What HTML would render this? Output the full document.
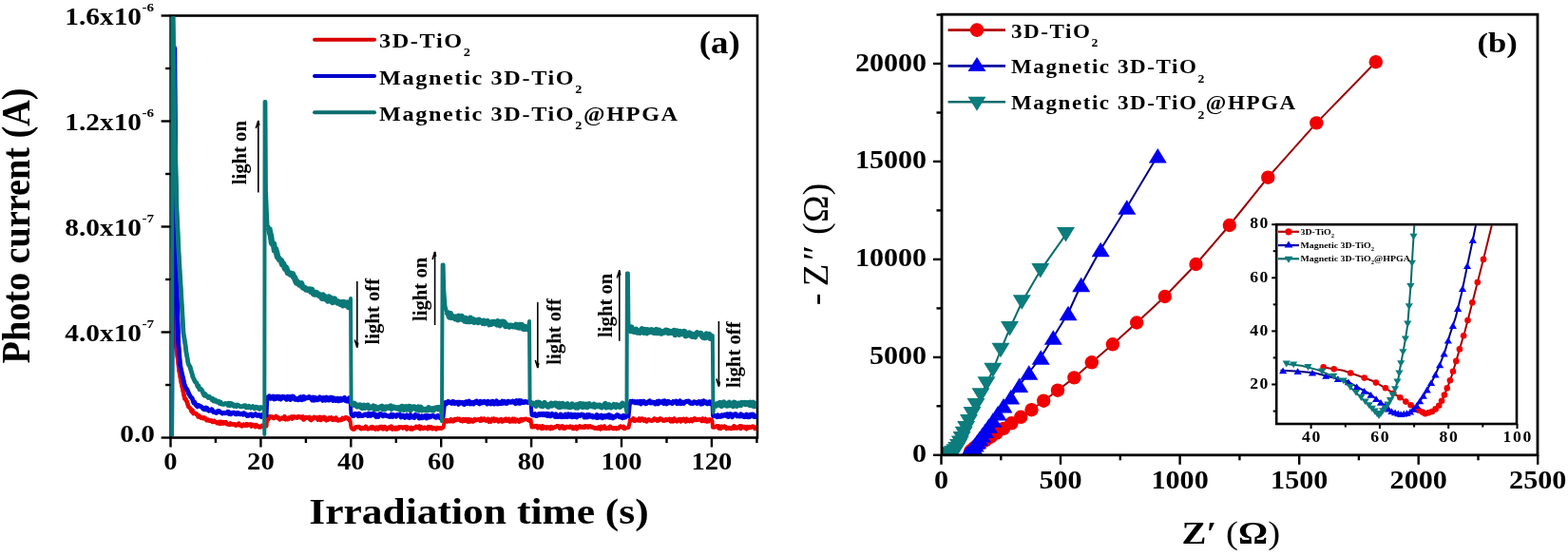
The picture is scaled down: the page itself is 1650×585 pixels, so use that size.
<!DOCTYPE html>
<html><head><meta charset="utf-8"><title>Figure</title>
<style>html,body{margin:0;padding:0;background:#fff;}svg{display:block;}</style></head>
<body><svg width="1650" height="585" viewBox="0 0 1650 585" font-family="'Liberation Serif', 'Times New Roman', serif" font-weight="bold">
<rect width="1650" height="585" fill="#fff"/>
<rect x="179.6" y="16.5" width="617.4" height="444.0" fill="none" stroke="#000" stroke-width="2.6"/>
<defs><clipPath id="ca"><rect x="178.5" y="17.5" width="617.5" height="442"/></clipPath></defs>
<g clip-path="url(#ca)">
<polyline points="180.5,458.0 181.2,263.0 181.5,262.5 182.5,309.1 183.5,330.4 184.5,347.2 185.5,365.1 186.5,373.3 187.5,380.9 188.5,390.0 189.5,395.4 190.5,401.6 191.5,405.9 192.5,410.3 193.5,415.6 194.5,419.8 195.5,420.0 196.5,422.3 197.5,425.3 198.5,428.2 199.5,428.9 200.5,429.8 201.5,432.7 202.5,431.7 203.5,435.2 204.5,434.7 205.5,434.9 206.5,435.4 207.5,436.5 208.5,438.4 209.5,437.3 210.5,438.9 211.5,439.6 212.5,439.3 213.5,440.2 214.5,439.4 215.5,439.8 216.5,440.6 217.5,442.3 218.5,441.9 219.5,441.8 220.5,442.7 221.5,442.6 222.5,442.4 223.5,443.9 224.5,443.9 225.5,442.9 226.5,444.0 227.5,444.0 228.5,445.2 229.5,445.0 230.5,444.0 231.5,445.9 232.5,443.8 233.5,444.7 234.5,445.7 235.5,444.2 236.5,445.2 237.5,444.2 238.5,445.9 239.5,446.3 240.5,445.9 241.5,446.8 242.5,445.5 243.5,446.6 244.5,446.4 245.5,446.4 246.5,446.2 247.5,447.3 248.5,447.6 249.5,446.5 250.5,447.1 251.5,445.6 252.5,447.4 253.5,447.3 254.5,448.3 255.5,447.9 256.5,446.6 257.5,447.0 258.5,447.8 259.5,446.2 260.5,447.4 261.5,446.7 262.5,446.7 263.5,446.6 264.5,448.5 265.5,446.9 266.5,447.2 267.5,447.7 268.5,449.0 269.5,447.0 270.5,448.0 271.5,448.3 272.5,449.3 273.5,449.2 274.5,449.3 275.5,447.9 276.5,448.3 277.5,448.2 280.5,448.5 281.3,439.5 281.5,440.7 282.5,441.0 283.5,438.4 284.5,438.5 285.5,438.7 286.5,438.7 287.5,439.6 288.5,439.9 289.5,438.9 290.5,438.1 291.5,439.4 292.5,439.3 293.5,439.9 294.5,441.2 295.5,440.3 296.5,439.8 297.5,440.2 298.5,440.4 299.5,438.4 300.5,441.1 301.5,440.7 302.5,441.1 303.5,440.8 304.5,439.5 305.5,439.6 306.5,438.7 307.5,440.4 308.5,438.6 309.5,438.6 310.5,439.1 311.5,438.9 312.5,439.5 313.5,438.6 314.5,438.5 315.5,439.0 316.5,438.8 317.5,439.7 318.5,438.6 319.5,441.3 320.5,440.5 321.5,439.1 322.5,439.4 323.5,439.7 324.5,439.8 325.5,439.0 326.5,441.4 327.5,441.9 328.5,440.2 329.5,440.3 330.5,439.0 331.5,439.1 332.5,439.9 333.5,439.6 334.5,441.5 335.5,439.3 336.5,438.9 337.5,441.9 338.5,440.6 339.5,439.4 340.5,440.6 341.5,439.0 342.5,440.6 343.5,442.1 344.5,441.7 345.5,441.2 346.5,439.8 347.5,440.2 348.5,439.6 349.5,441.5 350.5,440.8 351.5,441.6 352.5,440.2 353.5,439.8 354.5,441.7 355.5,442.3 356.5,441.9 357.5,441.8 358.5,441.8 359.5,441.6 360.5,440.0 361.5,440.9 362.5,440.4 363.5,439.4 364.5,439.4 365.5,440.2 366.5,440.2 367.5,441.6 368.5,442.5 369.5,450.0 370.0,449.8 371.0,451.3 372.0,451.5 373.0,451.4 374.0,449.6 375.0,449.2 376.0,449.2 377.0,449.1 378.0,449.1 379.0,450.4 380.0,451.2 381.0,451.1 382.0,450.0 383.0,450.5 384.0,450.9 385.0,448.8 386.0,450.5 387.0,451.3 388.0,450.9 389.0,450.8 390.0,450.0 391.0,449.1 392.0,450.9 393.0,449.6 394.0,451.0 395.0,451.5 396.0,449.8 397.0,449.8 398.0,451.4 399.0,450.8 400.0,449.1 401.0,449.0 402.0,449.1 403.0,451.3 404.0,451.0 405.0,449.0 406.0,451.1 407.0,451.6 408.0,450.6 409.0,449.7 410.0,450.3 411.0,449.0 412.0,448.7 413.0,451.5 414.0,450.6 415.0,450.2 416.0,451.4 417.0,449.9 418.0,451.3 419.0,451.1 420.0,449.3 421.0,449.4 422.0,449.5 423.0,449.4 424.0,450.4 425.0,449.5 426.0,449.9 427.0,449.1 428.0,451.4 429.0,449.7 430.0,450.1 431.0,450.4 432.0,451.4 433.0,450.0 434.0,451.5 435.0,450.2 436.0,450.3 437.0,450.3 438.0,448.8 439.0,450.0 440.0,449.3 441.0,448.7 442.0,451.1 443.0,449.2 444.0,450.2 445.0,450.9 446.0,450.4 447.0,449.7 448.0,450.3 449.0,450.4 450.0,451.1 451.0,449.1 452.0,450.4 453.0,449.5 454.0,449.6 455.0,451.1 456.0,450.3 457.0,450.5 458.0,451.1 459.0,451.5 460.0,450.1 461.0,450.6 462.0,450.3 463.0,450.3 464.0,450.9 465.0,450.2 466.5,450.0 468.0,442.0 468.5,442.1 469.5,441.9 470.5,443.3 471.5,442.6 472.5,443.1 473.5,443.3 474.5,441.3 475.5,442.2 476.5,443.3 477.5,443.0 478.5,440.9 479.5,440.9 480.5,441.9 481.5,440.7 482.5,441.3 483.5,440.8 484.5,442.5 485.5,442.9 486.5,443.2 487.5,441.0 488.5,442.7 489.5,442.5 490.5,441.0 491.5,443.2 492.5,443.5 493.5,441.2 494.5,443.4 495.5,441.8 496.5,442.0 497.5,443.5 498.5,443.1 499.5,441.1 500.5,441.9 501.5,442.1 502.5,441.6 503.5,441.2 504.5,441.5 505.5,442.7 506.5,440.6 507.5,442.2 508.5,441.9 509.5,440.6 510.5,441.6 511.5,442.5 512.5,442.1 513.5,440.8 514.5,443.6 515.5,443.0 516.5,443.5 517.5,440.9 518.5,441.4 519.5,440.7 520.5,443.0 521.5,441.4 522.5,441.0 523.5,441.9 524.5,443.4 525.5,443.1 526.5,441.4 527.5,441.1 528.5,443.4 529.5,442.3 530.5,442.7 531.5,440.9 532.5,440.8 533.5,442.7 534.5,441.9 535.5,440.9 536.5,443.5 537.5,442.6 538.5,443.1 539.5,440.9 540.5,443.2 541.5,440.9 542.5,443.3 543.5,442.0 544.5,441.7 545.5,442.3 546.5,443.5 547.5,441.5 548.5,441.1 549.5,442.3 550.5,441.4 551.5,441.0 552.5,441.2 553.5,440.8 554.5,441.3 555.5,441.6 556.5,441.6 557.5,443.0 558.5,441.6 559.5,449.5 560.0,449.5 561.0,448.5 562.0,449.1 563.0,448.1 564.0,448.8 565.0,448.1 566.0,450.2 567.0,449.7 568.0,448.6 569.0,449.5 570.0,450.9 571.0,448.4 572.0,450.5 573.0,449.4 574.0,449.6 575.0,450.6 576.0,449.3 577.0,449.6 578.0,450.2 579.0,451.0 580.0,449.1 581.0,450.6 582.0,450.2 583.0,450.0 584.0,449.3 585.0,449.2 586.0,448.3 587.0,448.5 588.0,448.4 589.0,450.4 590.0,448.9 591.0,448.6 592.0,448.4 593.0,450.7 594.0,450.8 595.0,450.2 596.0,449.0 597.0,448.9 598.0,449.1 599.0,449.6 600.0,448.7 601.0,449.5 602.0,449.0 603.0,451.1 604.0,451.1 605.0,449.9 606.0,449.0 607.0,451.1 608.0,449.2 609.0,449.3 610.0,448.3 611.0,449.4 612.0,449.7 613.0,449.8 614.0,448.9 615.0,449.8 616.0,448.3 617.0,449.1 618.0,448.6 619.0,449.5 620.0,448.4 621.0,448.4 622.0,449.2 623.0,449.0 624.0,450.1 625.0,449.9 626.0,450.6 627.0,450.3 628.0,450.5 629.0,451.0 630.0,449.5 631.0,449.3 632.0,451.3 633.0,448.8 634.0,450.5 635.0,450.3 636.0,448.5 637.0,450.9 638.0,451.1 639.0,450.3 640.0,450.6 641.0,450.8 642.0,448.8 643.0,450.0 644.0,449.9 645.0,450.9 646.0,450.8 647.0,450.9 648.0,450.2 649.0,451.1 650.0,450.5 651.0,450.5 652.0,449.2 653.0,448.6 654.0,448.9 655.0,449.6 656.0,448.8 657.0,451.0 658.0,450.2 659.0,450.4 661.5,450.0 663.0,441.8 663.5,442.2 664.5,442.3 665.5,441.8 666.5,440.3 667.5,442.7 668.5,442.6 669.5,441.8 670.5,441.9 671.5,442.3 672.5,440.5 673.5,442.5 674.5,441.1 675.5,440.6 676.5,441.1 677.5,442.5 678.5,441.0 679.5,442.6 680.5,443.3 681.5,441.8 682.5,441.5 683.5,441.8 684.5,442.4 685.5,442.7 686.5,442.2 687.5,442.3 688.5,440.6 689.5,440.8 690.5,441.1 691.5,442.6 692.5,441.3 693.5,442.1 694.5,440.4 695.5,440.6 696.5,441.2 697.5,442.4 698.5,442.5 699.5,442.4 700.5,441.3 701.5,441.9 702.5,441.8 703.5,441.8 704.5,440.8 705.5,443.1 706.5,441.0 707.5,443.3 708.5,443.2 709.5,440.5 710.5,441.8 711.5,442.9 712.5,443.3 713.5,441.8 714.5,441.2 715.5,441.1 716.5,443.3 717.5,441.1 718.5,442.2 719.5,440.9 720.5,442.0 721.5,443.3 722.5,440.8 723.5,442.9 724.5,442.0 725.5,443.1 726.5,442.6 727.5,441.1 728.5,443.1 729.5,441.9 730.5,440.5 731.5,440.5 732.5,441.9 733.5,441.8 734.5,441.4 735.5,440.9 736.5,441.5 737.5,441.4 738.5,443.0 739.5,440.5 740.5,442.7 741.5,443.0 742.5,440.8 743.5,443.3 744.5,442.6 745.5,443.2 746.5,441.4 747.5,441.6 748.5,441.7 749.5,443.5 750.0,449.5 750.5,449.8 751.5,449.1 752.5,449.3 753.5,448.8 754.5,448.2 755.5,448.3 756.5,450.5 757.5,448.9 758.5,450.9 759.5,448.8 760.5,448.9 761.5,449.6 762.5,448.6 763.5,449.2 764.5,451.0 765.5,450.7 766.5,450.5 767.5,450.0 768.5,450.9 769.5,450.9 770.5,449.8 771.5,450.3 772.5,448.3 773.5,450.3 774.5,449.5 775.5,450.4 776.5,450.1 777.5,449.0 778.5,448.3 779.5,451.0 780.5,448.6 781.5,449.6 782.5,449.2 783.5,449.1 784.5,450.4 785.5,451.2 786.5,449.0 787.5,450.2 788.5,449.1 789.5,449.9 790.5,449.4 791.5,448.8 792.5,448.8 793.5,448.9 794.5,451.0 795.5,449.8 796.5,449.0" fill="none" stroke="#ee0000" stroke-width="4" stroke-linejoin="round" />
<polyline points="181.5,262.5 182.5,309.1 183.5,330.4 184.5,347.2 185.5,365.1 186.5,373.3 187.5,380.9 188.5,390.0 189.5,395.4 190.5,401.6 191.5,405.9 192.5,410.3 193.5,415.6 194.5,419.8 195.5,420.0 196.5,422.3 197.5,425.3 198.5,428.2 199.5,428.9 200.5,429.8 201.5,432.7 202.5,431.7 203.5,435.2 204.5,434.7 205.5,434.9 206.5,435.4 207.5,436.5 208.5,438.4 209.5,437.3 210.5,438.9 211.5,439.6 212.5,439.3 213.5,440.2 214.5,439.4 215.5,439.8 216.5,440.6 217.5,442.3 218.5,441.9 219.5,441.8 220.5,442.7 221.5,442.6 222.5,442.4 223.5,443.9 224.5,443.9 225.5,442.9 226.5,444.0 227.5,444.0 228.5,445.2 229.5,445.0 230.5,444.0 231.5,445.9 232.5,443.8 233.5,444.7 234.5,445.7 235.5,444.2 236.5,445.2 237.5,444.2 238.5,445.9 239.5,446.3 240.5,445.9 241.5,446.8 242.5,445.5 243.5,446.6 244.5,446.4 245.5,446.4 246.5,446.2 247.5,447.3 248.5,447.6 249.5,446.5 250.5,447.1 251.5,445.6 252.5,447.4 253.5,447.3 254.5,448.3 255.5,447.9 256.5,446.6 257.5,447.0 258.5,447.8 259.5,446.2 260.5,447.4 261.5,446.7 262.5,446.7 263.5,446.6 264.5,448.5 265.5,446.9 266.5,447.2 267.5,447.7 268.5,449.0 269.5,447.0 270.5,448.0 271.5,448.3 272.5,449.3 273.5,449.2 274.5,449.3 275.5,447.9 276.5,448.3 277.5,448.2" fill="none" stroke="#ee0000" stroke-width="4.5" stroke-linejoin="round" />
<polyline points="281.5,440.7 282.5,441.0 283.5,438.4 284.5,438.5 285.5,438.7 286.5,438.7 287.5,439.6 288.5,439.9 289.5,438.9 290.5,438.1 291.5,439.4 292.5,439.3 293.5,439.9 294.5,441.2 295.5,440.3 296.5,439.8 297.5,440.2 298.5,440.4 299.5,438.4 300.5,441.1 301.5,440.7 302.5,441.1 303.5,440.8 304.5,439.5 305.5,439.6 306.5,438.7 307.5,440.4 308.5,438.6 309.5,438.6 310.5,439.1 311.5,438.9 312.5,439.5 313.5,438.6 314.5,438.5 315.5,439.0 316.5,438.8 317.5,439.7 318.5,438.6 319.5,441.3 320.5,440.5 321.5,439.1 322.5,439.4 323.5,439.7 324.5,439.8 325.5,439.0 326.5,441.4 327.5,441.9 328.5,440.2 329.5,440.3 330.5,439.0 331.5,439.1 332.5,439.9 333.5,439.6 334.5,441.5 335.5,439.3 336.5,438.9 337.5,441.9 338.5,440.6 339.5,439.4 340.5,440.6 341.5,439.0 342.5,440.6 343.5,442.1 344.5,441.7 345.5,441.2 346.5,439.8 347.5,440.2 348.5,439.6 349.5,441.5 350.5,440.8 351.5,441.6 352.5,440.2 353.5,439.8 354.5,441.7 355.5,442.3 356.5,441.9 357.5,441.8 358.5,441.8 359.5,441.6 360.5,440.0 361.5,440.9 362.5,440.4 363.5,439.4 364.5,439.4 365.5,440.2 366.5,440.2 367.5,441.6 368.5,442.5" fill="none" stroke="#ee0000" stroke-width="4.8" stroke-linejoin="round" />
<polyline points="370.0,449.8 371.0,451.3 372.0,451.5 373.0,451.4 374.0,449.6 375.0,449.2 376.0,449.2 377.0,449.1 378.0,449.1 379.0,450.4 380.0,451.2 381.0,451.1 382.0,450.0 383.0,450.5 384.0,450.9 385.0,448.8 386.0,450.5 387.0,451.3 388.0,450.9 389.0,450.8 390.0,450.0 391.0,449.1 392.0,450.9 393.0,449.6 394.0,451.0 395.0,451.5 396.0,449.8 397.0,449.8 398.0,451.4 399.0,450.8 400.0,449.1 401.0,449.0 402.0,449.1 403.0,451.3 404.0,451.0 405.0,449.0 406.0,451.1 407.0,451.6 408.0,450.6 409.0,449.7 410.0,450.3 411.0,449.0 412.0,448.7 413.0,451.5 414.0,450.6 415.0,450.2 416.0,451.4 417.0,449.9 418.0,451.3 419.0,451.1 420.0,449.3 421.0,449.4 422.0,449.5 423.0,449.4 424.0,450.4 425.0,449.5 426.0,449.9 427.0,449.1 428.0,451.4 429.0,449.7 430.0,450.1 431.0,450.4 432.0,451.4 433.0,450.0 434.0,451.5 435.0,450.2 436.0,450.3 437.0,450.3 438.0,448.8 439.0,450.0 440.0,449.3 441.0,448.7 442.0,451.1 443.0,449.2 444.0,450.2 445.0,450.9 446.0,450.4 447.0,449.7 448.0,450.3 449.0,450.4 450.0,451.1 451.0,449.1 452.0,450.4 453.0,449.5 454.0,449.6 455.0,451.1 456.0,450.3 457.0,450.5 458.0,451.1 459.0,451.5 460.0,450.1 461.0,450.6 462.0,450.3 463.0,450.3 464.0,450.9 465.0,450.2" fill="none" stroke="#ee0000" stroke-width="4.5" stroke-linejoin="round" />
<polyline points="468.5,442.1 469.5,441.9 470.5,443.3 471.5,442.6 472.5,443.1 473.5,443.3 474.5,441.3 475.5,442.2 476.5,443.3 477.5,443.0 478.5,440.9 479.5,440.9 480.5,441.9 481.5,440.7 482.5,441.3 483.5,440.8 484.5,442.5 485.5,442.9 486.5,443.2 487.5,441.0 488.5,442.7 489.5,442.5 490.5,441.0 491.5,443.2 492.5,443.5 493.5,441.2 494.5,443.4 495.5,441.8 496.5,442.0 497.5,443.5 498.5,443.1 499.5,441.1 500.5,441.9 501.5,442.1 502.5,441.6 503.5,441.2 504.5,441.5 505.5,442.7 506.5,440.6 507.5,442.2 508.5,441.9 509.5,440.6 510.5,441.6 511.5,442.5 512.5,442.1 513.5,440.8 514.5,443.6 515.5,443.0 516.5,443.5 517.5,440.9 518.5,441.4 519.5,440.7 520.5,443.0 521.5,441.4 522.5,441.0 523.5,441.9 524.5,443.4 525.5,443.1 526.5,441.4 527.5,441.1 528.5,443.4 529.5,442.3 530.5,442.7 531.5,440.9 532.5,440.8 533.5,442.7 534.5,441.9 535.5,440.9 536.5,443.5 537.5,442.6 538.5,443.1 539.5,440.9 540.5,443.2 541.5,440.9 542.5,443.3 543.5,442.0 544.5,441.7 545.5,442.3 546.5,443.5 547.5,441.5 548.5,441.1 549.5,442.3 550.5,441.4 551.5,441.0 552.5,441.2 553.5,440.8 554.5,441.3 555.5,441.6 556.5,441.6 557.5,443.0 558.5,441.6" fill="none" stroke="#ee0000" stroke-width="4.5" stroke-linejoin="round" />
<polyline points="560.0,449.5 561.0,448.5 562.0,449.1 563.0,448.1 564.0,448.8 565.0,448.1 566.0,450.2 567.0,449.7 568.0,448.6 569.0,449.5 570.0,450.9 571.0,448.4 572.0,450.5 573.0,449.4 574.0,449.6 575.0,450.6 576.0,449.3 577.0,449.6 578.0,450.2 579.0,451.0 580.0,449.1 581.0,450.6 582.0,450.2 583.0,450.0 584.0,449.3 585.0,449.2 586.0,448.3 587.0,448.5 588.0,448.4 589.0,450.4 590.0,448.9 591.0,448.6 592.0,448.4 593.0,450.7 594.0,450.8 595.0,450.2 596.0,449.0 597.0,448.9 598.0,449.1 599.0,449.6 600.0,448.7 601.0,449.5 602.0,449.0 603.0,451.1 604.0,451.1 605.0,449.9 606.0,449.0 607.0,451.1 608.0,449.2 609.0,449.3 610.0,448.3 611.0,449.4 612.0,449.7 613.0,449.8 614.0,448.9 615.0,449.8 616.0,448.3 617.0,449.1 618.0,448.6 619.0,449.5 620.0,448.4 621.0,448.4 622.0,449.2 623.0,449.0 624.0,450.1 625.0,449.9 626.0,450.6 627.0,450.3 628.0,450.5 629.0,451.0 630.0,449.5 631.0,449.3 632.0,451.3 633.0,448.8 634.0,450.5 635.0,450.3 636.0,448.5 637.0,450.9 638.0,451.1 639.0,450.3 640.0,450.6 641.0,450.8 642.0,448.8 643.0,450.0 644.0,449.9 645.0,450.9 646.0,450.8 647.0,450.9 648.0,450.2 649.0,451.1 650.0,450.5 651.0,450.5 652.0,449.2 653.0,448.6 654.0,448.9 655.0,449.6 656.0,448.8 657.0,451.0 658.0,450.2 659.0,450.4" fill="none" stroke="#ee0000" stroke-width="4.5" stroke-linejoin="round" />
<polyline points="663.5,442.2 664.5,442.3 665.5,441.8 666.5,440.3 667.5,442.7 668.5,442.6 669.5,441.8 670.5,441.9 671.5,442.3 672.5,440.5 673.5,442.5 674.5,441.1 675.5,440.6 676.5,441.1 677.5,442.5 678.5,441.0 679.5,442.6 680.5,443.3 681.5,441.8 682.5,441.5 683.5,441.8 684.5,442.4 685.5,442.7 686.5,442.2 687.5,442.3 688.5,440.6 689.5,440.8 690.5,441.1 691.5,442.6 692.5,441.3 693.5,442.1 694.5,440.4 695.5,440.6 696.5,441.2 697.5,442.4 698.5,442.5 699.5,442.4 700.5,441.3 701.5,441.9 702.5,441.8 703.5,441.8 704.5,440.8 705.5,443.1 706.5,441.0 707.5,443.3 708.5,443.2 709.5,440.5 710.5,441.8 711.5,442.9 712.5,443.3 713.5,441.8 714.5,441.2 715.5,441.1 716.5,443.3 717.5,441.1 718.5,442.2 719.5,440.9 720.5,442.0 721.5,443.3 722.5,440.8 723.5,442.9 724.5,442.0 725.5,443.1 726.5,442.6 727.5,441.1 728.5,443.1 729.5,441.9 730.5,440.5 731.5,440.5 732.5,441.9 733.5,441.8 734.5,441.4 735.5,440.9 736.5,441.5 737.5,441.4 738.5,443.0 739.5,440.5 740.5,442.7 741.5,443.0 742.5,440.8 743.5,443.3 744.5,442.6 745.5,443.2 746.5,441.4 747.5,441.6 748.5,441.7 749.5,443.5" fill="none" stroke="#ee0000" stroke-width="4.5" stroke-linejoin="round" />
<polyline points="750.5,449.8 751.5,449.1 752.5,449.3 753.5,448.8 754.5,448.2 755.5,448.3 756.5,450.5 757.5,448.9 758.5,450.9 759.5,448.8 760.5,448.9 761.5,449.6 762.5,448.6 763.5,449.2 764.5,451.0 765.5,450.7 766.5,450.5 767.5,450.0 768.5,450.9 769.5,450.9 770.5,449.8 771.5,450.3 772.5,448.3 773.5,450.3 774.5,449.5 775.5,450.4 776.5,450.1 777.5,449.0 778.5,448.3 779.5,451.0 780.5,448.6 781.5,449.6 782.5,449.2 783.5,449.1 784.5,450.4 785.5,451.2 786.5,449.0 787.5,450.2 788.5,449.1 789.5,449.9 790.5,449.4 791.5,448.8 792.5,448.8 793.5,448.9 794.5,451.0 795.5,449.8 796.5,449.0" fill="none" stroke="#ee0000" stroke-width="4.5" stroke-linejoin="round" />
<polyline points="181.0,458.0 183.5,49.0 183.8,50.1 184.8,193.3 185.8,287.9 186.8,331.1 187.8,361.6 188.8,374.9 189.8,385.6 190.8,390.1 191.8,394.5 192.8,398.6 193.8,403.4 194.8,406.7 195.8,408.5 196.8,409.8 197.8,412.0 198.8,414.5 199.8,416.2 200.8,417.8 201.8,418.6 202.8,420.6 203.8,423.9 204.8,423.2 205.8,425.7 206.8,426.7 207.8,427.7 208.8,426.4 209.8,426.9 210.8,427.3 211.8,428.1 212.8,428.6 213.8,430.3 214.8,430.4 215.8,430.9 216.8,429.0 217.8,429.3 218.8,431.4 219.8,432.2 220.8,431.4 221.8,432.0 222.8,430.7 223.8,432.1 224.8,433.7 225.8,433.8 226.8,434.0 227.8,434.4 228.8,432.6 229.8,432.4 230.8,432.6 231.8,433.7 232.8,434.2 233.8,435.0 234.8,434.5 235.8,434.4 236.8,434.8 237.8,434.1 238.8,434.5 239.8,433.2 240.8,435.3 241.8,434.0 242.8,435.8 243.8,435.2 244.8,434.4 245.8,434.1 246.8,434.5 247.8,435.6 248.8,435.9 249.8,434.5 250.8,434.4 251.8,435.7 252.8,435.9 253.8,435.5 254.8,435.1 255.8,436.2 256.8,434.7 257.8,435.5 258.8,436.0 259.8,437.4 260.8,436.6 261.8,437.3 262.8,436.4 263.8,435.8 264.8,435.9 265.8,437.8 266.8,437.2 267.8,436.3 268.8,435.6 269.8,436.9 270.8,437.4 271.8,436.8 272.8,436.5 273.8,437.6 274.8,438.4 275.8,436.6 276.8,436.2 277.8,437.1 280.5,437.5 281.3,418.0 281.5,417.7 282.5,418.6 283.5,417.0 284.5,419.1 285.5,418.9 286.5,418.2 287.5,417.2 288.5,419.8 289.5,417.6 290.5,419.3 291.5,417.4 292.5,417.4 293.5,419.2 294.5,417.7 295.5,419.9 296.5,418.4 297.5,417.4 298.5,417.5 299.5,418.2 300.5,419.1 301.5,420.1 302.5,417.4 303.5,418.3 304.5,417.7 305.5,420.3 306.5,417.5 307.5,417.2 308.5,417.3 309.5,418.4 310.5,420.2 311.5,420.2 312.5,419.7 313.5,420.6 314.5,420.4 315.5,418.4 316.5,417.9 317.5,420.5 318.5,419.9 319.5,417.5 320.5,419.7 321.5,418.7 322.5,418.7 323.5,418.6 324.5,418.1 325.5,417.6 326.5,418.5 327.5,418.8 328.5,420.9 329.5,418.1 330.5,421.0 331.5,418.4 332.5,419.0 333.5,420.6 334.5,420.6 335.5,419.3 336.5,418.0 337.5,419.5 338.5,419.2 339.5,421.1 340.5,418.6 341.5,419.3 342.5,421.1 343.5,418.2 344.5,419.5 345.5,420.9 346.5,420.8 347.5,418.3 348.5,418.3 349.5,418.5 350.5,421.4 351.5,419.2 352.5,420.9 353.5,421.4 354.5,419.5 355.5,419.3 356.5,421.7 357.5,420.6 358.5,419.4 359.5,421.0 360.5,419.6 361.5,419.5 362.5,418.6 363.5,421.2 364.5,421.8 365.5,420.9 366.5,421.9 367.5,418.8 368.5,419.6 369.5,436.0 370.0,435.9 371.0,437.5 372.0,437.5 373.0,435.7 374.0,435.3 375.0,435.9 376.0,436.2 377.0,437.6 378.0,435.2 379.0,437.3 380.0,437.1 381.0,437.4 382.0,437.3 383.0,436.8 384.0,435.9 385.0,435.9 386.0,436.1 387.0,437.4 388.0,435.2 389.0,435.6 390.0,437.4 391.0,435.9 392.0,435.3 393.0,435.2 394.0,436.9 395.0,436.2 396.0,438.4 397.0,438.1 398.0,438.4 399.0,436.2 400.0,435.6 401.0,435.7 402.0,437.0 403.0,437.7 404.0,436.9 405.0,436.3 406.0,436.9 407.0,437.6 408.0,437.8 409.0,438.0 410.0,438.4 411.0,437.8 412.0,436.1 413.0,438.4 414.0,436.7 415.0,437.6 416.0,437.0 417.0,438.2 418.0,436.6 419.0,436.7 420.0,436.8 421.0,436.5 422.0,438.9 423.0,437.9 424.0,437.1 425.0,437.4 426.0,439.3 427.0,437.8 428.0,437.0 429.0,438.9 430.0,438.4 431.0,439.5 432.0,436.7 433.0,437.9 434.0,439.0 435.0,439.1 436.0,439.4 437.0,436.6 438.0,437.5 439.0,437.0 440.0,437.2 441.0,439.8 442.0,438.5 443.0,439.7 444.0,437.9 445.0,439.5 446.0,438.2 447.0,437.7 448.0,439.4 449.0,439.9 450.0,437.3 451.0,438.9 452.0,439.0 453.0,437.7 454.0,438.2 455.0,437.5 456.0,437.8 457.0,438.0 458.0,439.1 459.0,439.3 460.0,437.9 461.0,437.3 462.0,438.4 463.0,439.5 464.0,438.0 465.0,438.4 466.5,438.5 468.0,424.0 468.5,423.1 469.5,424.9 470.5,424.1 471.5,422.6 472.5,422.7 473.5,423.6 474.5,424.1 475.5,424.4 476.5,422.6 477.5,422.8 478.5,424.5 479.5,423.6 480.5,423.2 481.5,423.2 482.5,425.3 483.5,423.2 484.5,424.0 485.5,423.4 486.5,423.5 487.5,425.0 488.5,425.4 489.5,423.3 490.5,422.8 491.5,424.5 492.5,422.8 493.5,422.1 494.5,425.0 495.5,423.5 496.5,424.7 497.5,423.4 498.5,424.9 499.5,423.5 500.5,422.6 501.5,422.1 502.5,423.8 503.5,424.1 504.5,424.9 505.5,422.3 506.5,424.0 507.5,423.2 508.5,423.6 509.5,422.4 510.5,422.8 511.5,423.6 512.5,424.9 513.5,422.3 514.5,423.5 515.5,424.5 516.5,425.0 517.5,422.5 518.5,422.3 519.5,424.9 520.5,424.9 521.5,423.4 522.5,422.0 523.5,424.8 524.5,423.0 525.5,424.7 526.5,423.7 527.5,424.4 528.5,422.2 529.5,424.2 530.5,422.4 531.5,423.0 532.5,424.4 533.5,424.3 534.5,422.3 535.5,422.4 536.5,422.9 537.5,423.3 538.5,422.9 539.5,422.0 540.5,422.4 541.5,423.9 542.5,424.5 543.5,421.7 544.5,423.4 545.5,424.0 546.5,421.7 547.5,424.2 548.5,421.9 549.5,423.4 550.5,423.3 551.5,423.5 552.5,422.5 553.5,422.8 554.5,423.3 555.5,422.8 556.5,423.5 557.5,422.8 558.5,422.8 559.5,436.5 560.0,435.0 561.0,436.9 562.0,436.5 563.0,435.7 564.0,437.4 565.0,437.5 566.0,436.5 567.0,435.6 568.0,436.6 569.0,435.4 570.0,435.5 571.0,436.5 572.0,435.4 573.0,436.6 574.0,436.8 575.0,435.3 576.0,437.3 577.0,435.5 578.0,437.6 579.0,437.8 580.0,436.9 581.0,435.5 582.0,437.0 583.0,436.6 584.0,438.4 585.0,435.8 586.0,438.2 587.0,438.6 588.0,437.8 589.0,438.1 590.0,436.1 591.0,438.7 592.0,437.1 593.0,438.6 594.0,438.5 595.0,436.1 596.0,438.1 597.0,438.6 598.0,435.9 599.0,436.8 600.0,438.1 601.0,436.2 602.0,438.6 603.0,436.6 604.0,438.4 605.0,436.3 606.0,437.4 607.0,438.8 608.0,436.5 609.0,436.7 610.0,437.5 611.0,436.9 612.0,436.1 613.0,436.5 614.0,436.5 615.0,439.0 616.0,438.2 617.0,438.9 618.0,436.6 619.0,438.6 620.0,436.5 621.0,437.8 622.0,438.2 623.0,437.3 624.0,439.0 625.0,438.0 626.0,438.1 627.0,439.1 628.0,436.6 629.0,439.5 630.0,438.3 631.0,437.6 632.0,438.9 633.0,437.2 634.0,439.6 635.0,438.3 636.0,437.6 637.0,438.9 638.0,437.9 639.0,437.1 640.0,438.9 641.0,436.7 642.0,439.2 643.0,437.4 644.0,438.6 645.0,439.8 646.0,438.5 647.0,438.8 648.0,437.7 649.0,436.7 650.0,436.8 651.0,437.2 652.0,438.7 653.0,438.2 654.0,438.4 655.0,439.7 656.0,437.3 657.0,437.6 658.0,439.0 659.0,437.0 661.5,438.5 663.0,423.5 663.5,421.9 664.5,423.0 665.5,422.2 666.5,423.0 667.5,422.6 668.5,423.8 669.5,423.8 670.5,422.6 671.5,423.9 672.5,423.4 673.5,422.3 674.5,424.9 675.5,422.7 676.5,422.4 677.5,422.2 678.5,423.9 679.5,424.7 680.5,424.4 681.5,423.2 682.5,422.7 683.5,421.9 684.5,424.0 685.5,423.7 686.5,423.0 687.5,424.0 688.5,423.3 689.5,424.9 690.5,424.2 691.5,422.7 692.5,424.8 693.5,422.0 694.5,423.6 695.5,423.2 696.5,422.7 697.5,422.1 698.5,424.4 699.5,421.9 700.5,423.7 701.5,424.9 702.5,422.4 703.5,422.5 704.5,423.8 705.5,423.5 706.5,424.0 707.5,424.5 708.5,422.5 709.5,422.9 710.5,422.9 711.5,422.1 712.5,424.7 713.5,424.4 714.5,424.2 715.5,421.9 716.5,424.6 717.5,424.3 718.5,423.4 719.5,424.3 720.5,423.3 721.5,422.6 722.5,422.2 723.5,422.6 724.5,422.0 725.5,423.0 726.5,424.3 727.5,424.1 728.5,424.6 729.5,424.2 730.5,422.8 731.5,423.7 732.5,423.3 733.5,424.4 734.5,423.6 735.5,422.7 736.5,424.0 737.5,425.0 738.5,422.6 739.5,424.7 740.5,421.9 741.5,422.7 742.5,422.7 743.5,424.3 744.5,424.9 745.5,424.3 746.5,422.9 747.5,424.7 748.5,423.0 749.5,422.7 750.0,437.0 750.5,438.3 751.5,437.4 752.5,437.6 753.5,437.6 754.5,438.6 755.5,437.0 756.5,438.2 757.5,437.7 758.5,438.2 759.5,436.9 760.5,437.8 761.5,437.3 762.5,436.5 763.5,436.2 764.5,437.5 765.5,435.8 766.5,438.5 767.5,436.0 768.5,435.7 769.5,435.9 770.5,438.6 771.5,436.7 772.5,436.1 773.5,435.7 774.5,435.8 775.5,437.9 776.5,437.7 777.5,437.9 778.5,438.1 779.5,435.9 780.5,437.6 781.5,436.9 782.5,438.4 783.5,438.4 784.5,438.6 785.5,436.0 786.5,438.6 787.5,438.7 788.5,438.8 789.5,436.2 790.5,436.5 791.5,436.2 792.5,436.0 793.5,438.6 794.5,438.5 795.5,437.9 796.5,438.5" fill="none" stroke="#0000e0" stroke-width="4" stroke-linejoin="round" />
<polyline points="183.8,50.1 184.8,193.3 185.8,287.9 186.8,331.1 187.8,361.6 188.8,374.9 189.8,385.6 190.8,390.1 191.8,394.5 192.8,398.6 193.8,403.4 194.8,406.7 195.8,408.5 196.8,409.8 197.8,412.0 198.8,414.5 199.8,416.2 200.8,417.8 201.8,418.6 202.8,420.6 203.8,423.9 204.8,423.2 205.8,425.7 206.8,426.7 207.8,427.7 208.8,426.4 209.8,426.9 210.8,427.3 211.8,428.1 212.8,428.6 213.8,430.3 214.8,430.4 215.8,430.9 216.8,429.0 217.8,429.3 218.8,431.4 219.8,432.2 220.8,431.4 221.8,432.0 222.8,430.7 223.8,432.1 224.8,433.7 225.8,433.8 226.8,434.0 227.8,434.4 228.8,432.6 229.8,432.4 230.8,432.6 231.8,433.7 232.8,434.2 233.8,435.0 234.8,434.5 235.8,434.4 236.8,434.8 237.8,434.1 238.8,434.5 239.8,433.2 240.8,435.3 241.8,434.0 242.8,435.8 243.8,435.2 244.8,434.4 245.8,434.1 246.8,434.5 247.8,435.6 248.8,435.9 249.8,434.5 250.8,434.4 251.8,435.7 252.8,435.9 253.8,435.5 254.8,435.1 255.8,436.2 256.8,434.7 257.8,435.5 258.8,436.0 259.8,437.4 260.8,436.6 261.8,437.3 262.8,436.4 263.8,435.8 264.8,435.9 265.8,437.8 266.8,437.2 267.8,436.3 268.8,435.6 269.8,436.9 270.8,437.4 271.8,436.8 272.8,436.5 273.8,437.6 274.8,438.4 275.8,436.6 276.8,436.2 277.8,437.1" fill="none" stroke="#0000e0" stroke-width="4.8" stroke-linejoin="round" />
<polyline points="281.5,417.7 282.5,418.6 283.5,417.0 284.5,419.1 285.5,418.9 286.5,418.2 287.5,417.2 288.5,419.8 289.5,417.6 290.5,419.3 291.5,417.4 292.5,417.4 293.5,419.2 294.5,417.7 295.5,419.9 296.5,418.4 297.5,417.4 298.5,417.5 299.5,418.2 300.5,419.1 301.5,420.1 302.5,417.4 303.5,418.3 304.5,417.7 305.5,420.3 306.5,417.5 307.5,417.2 308.5,417.3 309.5,418.4 310.5,420.2 311.5,420.2 312.5,419.7 313.5,420.6 314.5,420.4 315.5,418.4 316.5,417.9 317.5,420.5 318.5,419.9 319.5,417.5 320.5,419.7 321.5,418.7 322.5,418.7 323.5,418.6 324.5,418.1 325.5,417.6 326.5,418.5 327.5,418.8 328.5,420.9 329.5,418.1 330.5,421.0 331.5,418.4 332.5,419.0 333.5,420.6 334.5,420.6 335.5,419.3 336.5,418.0 337.5,419.5 338.5,419.2 339.5,421.1 340.5,418.6 341.5,419.3 342.5,421.1 343.5,418.2 344.5,419.5 345.5,420.9 346.5,420.8 347.5,418.3 348.5,418.3 349.5,418.5 350.5,421.4 351.5,419.2 352.5,420.9 353.5,421.4 354.5,419.5 355.5,419.3 356.5,421.7 357.5,420.6 358.5,419.4 359.5,421.0 360.5,419.6 361.5,419.5 362.5,418.6 363.5,421.2 364.5,421.8 365.5,420.9 366.5,421.9 367.5,418.8 368.5,419.6" fill="none" stroke="#0000e0" stroke-width="5.2" stroke-linejoin="round" />
<polyline points="370.0,435.9 371.0,437.5 372.0,437.5 373.0,435.7 374.0,435.3 375.0,435.9 376.0,436.2 377.0,437.6 378.0,435.2 379.0,437.3 380.0,437.1 381.0,437.4 382.0,437.3 383.0,436.8 384.0,435.9 385.0,435.9 386.0,436.1 387.0,437.4 388.0,435.2 389.0,435.6 390.0,437.4 391.0,435.9 392.0,435.3 393.0,435.2 394.0,436.9 395.0,436.2 396.0,438.4 397.0,438.1 398.0,438.4 399.0,436.2 400.0,435.6 401.0,435.7 402.0,437.0 403.0,437.7 404.0,436.9 405.0,436.3 406.0,436.9 407.0,437.6 408.0,437.8 409.0,438.0 410.0,438.4 411.0,437.8 412.0,436.1 413.0,438.4 414.0,436.7 415.0,437.6 416.0,437.0 417.0,438.2 418.0,436.6 419.0,436.7 420.0,436.8 421.0,436.5 422.0,438.9 423.0,437.9 424.0,437.1 425.0,437.4 426.0,439.3 427.0,437.8 428.0,437.0 429.0,438.9 430.0,438.4 431.0,439.5 432.0,436.7 433.0,437.9 434.0,439.0 435.0,439.1 436.0,439.4 437.0,436.6 438.0,437.5 439.0,437.0 440.0,437.2 441.0,439.8 442.0,438.5 443.0,439.7 444.0,437.9 445.0,439.5 446.0,438.2 447.0,437.7 448.0,439.4 449.0,439.9 450.0,437.3 451.0,438.9 452.0,439.0 453.0,437.7 454.0,438.2 455.0,437.5 456.0,437.8 457.0,438.0 458.0,439.1 459.0,439.3 460.0,437.9 461.0,437.3 462.0,438.4 463.0,439.5 464.0,438.0 465.0,438.4" fill="none" stroke="#0000e0" stroke-width="5.0" stroke-linejoin="round" />
<polyline points="468.5,423.1 469.5,424.9 470.5,424.1 471.5,422.6 472.5,422.7 473.5,423.6 474.5,424.1 475.5,424.4 476.5,422.6 477.5,422.8 478.5,424.5 479.5,423.6 480.5,423.2 481.5,423.2 482.5,425.3 483.5,423.2 484.5,424.0 485.5,423.4 486.5,423.5 487.5,425.0 488.5,425.4 489.5,423.3 490.5,422.8 491.5,424.5 492.5,422.8 493.5,422.1 494.5,425.0 495.5,423.5 496.5,424.7 497.5,423.4 498.5,424.9 499.5,423.5 500.5,422.6 501.5,422.1 502.5,423.8 503.5,424.1 504.5,424.9 505.5,422.3 506.5,424.0 507.5,423.2 508.5,423.6 509.5,422.4 510.5,422.8 511.5,423.6 512.5,424.9 513.5,422.3 514.5,423.5 515.5,424.5 516.5,425.0 517.5,422.5 518.5,422.3 519.5,424.9 520.5,424.9 521.5,423.4 522.5,422.0 523.5,424.8 524.5,423.0 525.5,424.7 526.5,423.7 527.5,424.4 528.5,422.2 529.5,424.2 530.5,422.4 531.5,423.0 532.5,424.4 533.5,424.3 534.5,422.3 535.5,422.4 536.5,422.9 537.5,423.3 538.5,422.9 539.5,422.0 540.5,422.4 541.5,423.9 542.5,424.5 543.5,421.7 544.5,423.4 545.5,424.0 546.5,421.7 547.5,424.2 548.5,421.9 549.5,423.4 550.5,423.3 551.5,423.5 552.5,422.5 553.5,422.8 554.5,423.3 555.5,422.8 556.5,423.5 557.5,422.8 558.5,422.8" fill="none" stroke="#0000e0" stroke-width="5.0" stroke-linejoin="round" />
<polyline points="560.0,435.0 561.0,436.9 562.0,436.5 563.0,435.7 564.0,437.4 565.0,437.5 566.0,436.5 567.0,435.6 568.0,436.6 569.0,435.4 570.0,435.5 571.0,436.5 572.0,435.4 573.0,436.6 574.0,436.8 575.0,435.3 576.0,437.3 577.0,435.5 578.0,437.6 579.0,437.8 580.0,436.9 581.0,435.5 582.0,437.0 583.0,436.6 584.0,438.4 585.0,435.8 586.0,438.2 587.0,438.6 588.0,437.8 589.0,438.1 590.0,436.1 591.0,438.7 592.0,437.1 593.0,438.6 594.0,438.5 595.0,436.1 596.0,438.1 597.0,438.6 598.0,435.9 599.0,436.8 600.0,438.1 601.0,436.2 602.0,438.6 603.0,436.6 604.0,438.4 605.0,436.3 606.0,437.4 607.0,438.8 608.0,436.5 609.0,436.7 610.0,437.5 611.0,436.9 612.0,436.1 613.0,436.5 614.0,436.5 615.0,439.0 616.0,438.2 617.0,438.9 618.0,436.6 619.0,438.6 620.0,436.5 621.0,437.8 622.0,438.2 623.0,437.3 624.0,439.0 625.0,438.0 626.0,438.1 627.0,439.1 628.0,436.6 629.0,439.5 630.0,438.3 631.0,437.6 632.0,438.9 633.0,437.2 634.0,439.6 635.0,438.3 636.0,437.6 637.0,438.9 638.0,437.9 639.0,437.1 640.0,438.9 641.0,436.7 642.0,439.2 643.0,437.4 644.0,438.6 645.0,439.8 646.0,438.5 647.0,438.8 648.0,437.7 649.0,436.7 650.0,436.8 651.0,437.2 652.0,438.7 653.0,438.2 654.0,438.4 655.0,439.7 656.0,437.3 657.0,437.6 658.0,439.0 659.0,437.0" fill="none" stroke="#0000e0" stroke-width="5.0" stroke-linejoin="round" />
<polyline points="663.5,421.9 664.5,423.0 665.5,422.2 666.5,423.0 667.5,422.6 668.5,423.8 669.5,423.8 670.5,422.6 671.5,423.9 672.5,423.4 673.5,422.3 674.5,424.9 675.5,422.7 676.5,422.4 677.5,422.2 678.5,423.9 679.5,424.7 680.5,424.4 681.5,423.2 682.5,422.7 683.5,421.9 684.5,424.0 685.5,423.7 686.5,423.0 687.5,424.0 688.5,423.3 689.5,424.9 690.5,424.2 691.5,422.7 692.5,424.8 693.5,422.0 694.5,423.6 695.5,423.2 696.5,422.7 697.5,422.1 698.5,424.4 699.5,421.9 700.5,423.7 701.5,424.9 702.5,422.4 703.5,422.5 704.5,423.8 705.5,423.5 706.5,424.0 707.5,424.5 708.5,422.5 709.5,422.9 710.5,422.9 711.5,422.1 712.5,424.7 713.5,424.4 714.5,424.2 715.5,421.9 716.5,424.6 717.5,424.3 718.5,423.4 719.5,424.3 720.5,423.3 721.5,422.6 722.5,422.2 723.5,422.6 724.5,422.0 725.5,423.0 726.5,424.3 727.5,424.1 728.5,424.6 729.5,424.2 730.5,422.8 731.5,423.7 732.5,423.3 733.5,424.4 734.5,423.6 735.5,422.7 736.5,424.0 737.5,425.0 738.5,422.6 739.5,424.7 740.5,421.9 741.5,422.7 742.5,422.7 743.5,424.3 744.5,424.9 745.5,424.3 746.5,422.9 747.5,424.7 748.5,423.0 749.5,422.7" fill="none" stroke="#0000e0" stroke-width="5.0" stroke-linejoin="round" />
<polyline points="750.5,438.3 751.5,437.4 752.5,437.6 753.5,437.6 754.5,438.6 755.5,437.0 756.5,438.2 757.5,437.7 758.5,438.2 759.5,436.9 760.5,437.8 761.5,437.3 762.5,436.5 763.5,436.2 764.5,437.5 765.5,435.8 766.5,438.5 767.5,436.0 768.5,435.7 769.5,435.9 770.5,438.6 771.5,436.7 772.5,436.1 773.5,435.7 774.5,435.8 775.5,437.9 776.5,437.7 777.5,437.9 778.5,438.1 779.5,435.9 780.5,437.6 781.5,436.9 782.5,438.4 783.5,438.4 784.5,438.6 785.5,436.0 786.5,438.6 787.5,438.7 788.5,438.8 789.5,436.2 790.5,436.5 791.5,436.2 792.5,436.0 793.5,438.6 794.5,438.5 795.5,437.9 796.5,438.5" fill="none" stroke="#0000e0" stroke-width="5.0" stroke-linejoin="round" />
<polyline points="181.1,459.0 181.4,5.0 182.0,5.4 183.0,79.4 184.0,138.9 185.0,178.9 186.0,220.7 187.0,241.7 188.0,264.5 189.0,282.3 190.0,298.7 191.0,316.0 192.0,332.7 193.0,350.6 194.0,356.2 195.0,362.5 196.0,370.9 197.0,376.1 198.0,382.2 199.0,384.5 200.0,385.8 201.0,389.8 202.0,392.9 203.0,396.8 204.0,398.6 205.0,401.2 206.0,402.4 207.0,403.2 208.0,406.7 209.0,406.2 210.0,409.9 211.0,409.2 212.0,409.9 213.0,411.7 214.0,414.4 215.0,416.2 216.0,414.6 217.0,416.5 218.0,417.0 219.0,418.4 220.0,417.2 221.0,418.7 222.0,418.8 223.0,420.7 224.0,419.6 225.0,422.0 226.0,420.7 227.0,421.1 228.0,423.0 229.0,422.9 230.0,422.4 231.0,424.4 232.0,423.0 233.0,425.1 234.0,425.0 235.0,425.4 236.0,425.1 237.0,424.5 238.0,424.7 239.0,424.8 240.0,426.4 241.0,424.3 242.0,426.7 243.0,424.4 244.0,425.0 245.0,425.3 246.0,427.3 247.0,426.3 248.0,426.1 249.0,427.6 250.0,426.0 251.0,426.7 252.0,427.1 253.0,427.8 254.0,427.9 255.0,427.8 256.0,427.0 257.0,427.1 258.0,426.7 259.0,428.8 260.0,428.4 261.0,428.7 262.0,427.2 263.0,428.1 264.0,429.2 265.0,428.7 266.0,427.6 267.0,428.6 268.0,429.9 269.0,428.2 270.0,428.2 271.0,428.6 272.0,429.9 273.0,430.4 274.0,428.6 275.0,428.7 276.0,429.1 277.0,429.4 278.0,430.1 278.3,457.0 278.6,107.0 279.4,107.0 279.9,200.0 281.5,237.0 283.0,239.4 284.0,244.6 285.0,248.4 286.0,255.5 287.0,257.1 288.0,256.8 289.0,263.5 290.0,262.2 291.0,265.5 292.0,270.2 293.0,271.4 294.0,273.1 295.0,273.5 296.0,274.3 297.0,278.1 298.0,277.5 299.0,279.8 300.0,282.5 301.0,281.7 302.0,284.3 303.0,287.0 304.0,287.4 305.0,287.4 306.0,288.9 307.0,289.1 308.0,288.5 309.0,291.5 310.0,292.1 311.0,295.1 312.0,297.4 313.0,296.7 314.0,298.0 315.0,299.4 316.0,298.6 317.0,298.3 318.0,301.3 319.0,302.6 320.0,302.8 321.0,303.1 322.0,304.4 323.0,304.3 324.0,304.8 325.0,304.6 326.0,304.6 327.0,306.6 328.0,304.9 329.0,307.0 330.0,309.3 331.0,309.4 332.0,309.4 333.0,308.1 334.0,309.3 335.0,309.9 336.0,311.0 337.0,310.5 338.0,312.1 339.0,313.7 340.0,310.7 341.0,313.2 342.0,314.2 343.0,312.8 344.0,313.7 345.0,316.4 346.0,312.5 347.0,315.2 348.0,313.7 349.0,316.9 350.0,317.9 351.0,316.2 352.0,314.6 353.0,317.1 354.0,317.2 355.0,318.3 356.0,317.6 357.0,318.5 358.0,319.7 359.0,318.5 360.0,318.3 361.0,321.1 362.0,318.0 363.0,320.4 364.0,319.4 365.0,321.4 366.0,318.7 367.0,322.9 368.0,320.3 369.0,314.0 369.6,425.0 370.0,424.2 371.0,425.2 372.0,425.9 373.0,424.5 374.0,426.3 375.0,426.4 376.0,427.7 377.0,426.5 378.0,426.3 379.0,426.2 380.0,428.5 381.0,429.3 382.0,427.8 383.0,426.6 384.0,429.0 385.0,427.4 386.0,426.8 387.0,426.5 388.0,429.2 389.0,429.4 390.0,428.8 391.0,428.2 392.0,428.6 393.0,427.4 394.0,430.4 395.0,428.0 396.0,429.3 397.0,430.0 398.0,430.1 399.0,428.8 400.0,428.2 401.0,429.2 402.0,427.5 403.0,430.4 404.0,428.5 405.0,430.5 406.0,428.2 407.0,428.6 408.0,428.1 409.0,428.9 410.0,427.9 411.0,427.2 412.0,430.1 413.0,428.3 414.0,428.2 415.0,428.5 416.0,429.2 417.0,429.0 418.0,429.8 419.0,430.0 420.0,428.8 421.0,431.1 422.0,430.8 423.0,427.6 424.0,430.7 425.0,431.0 426.0,430.6 427.0,428.0 428.0,430.8 429.0,430.0 430.0,427.6 431.0,427.6 432.0,431.4 433.0,430.2 434.0,428.6 435.0,428.1 436.0,428.2 437.0,428.6 438.0,430.8 439.0,429.2 440.0,428.4 441.0,431.4 442.0,431.0 443.0,428.6 444.0,431.5 445.0,430.4 446.0,431.1 447.0,430.7 448.0,431.6 449.0,431.2 450.0,431.4 451.0,428.9 452.0,430.9 453.0,430.3 454.0,431.2 455.0,430.0 456.0,431.8 457.0,430.5 458.0,429.4 459.0,429.3 460.0,428.9 461.0,430.4 462.0,428.7 463.0,430.3 464.0,429.1 465.0,443.0 465.6,278.5 466.6,278.5 467.2,305.0 468.5,322.0 470.0,328.0 471.0,329.3 472.0,330.8 473.0,333.6 474.0,330.1 475.0,334.1 476.0,332.7 477.0,333.4 478.0,334.2 479.0,335.2 480.0,333.4 481.0,333.8 482.0,336.4 483.0,332.7 484.0,335.3 485.0,335.5 486.0,333.0 487.0,335.7 488.0,336.2 489.0,337.5 490.0,335.0 491.0,338.0 492.0,336.1 493.0,336.2 494.0,338.2 495.0,334.6 496.0,337.8 497.0,337.5 498.0,336.4 499.0,338.9 500.0,336.9 501.0,337.5 502.0,337.8 503.0,339.0 504.0,336.7 505.0,337.8 506.0,337.9 507.0,338.6 508.0,339.9 509.0,337.6 510.0,340.1 511.0,338.4 512.0,338.9 513.0,338.0 514.0,339.2 515.0,341.3 516.0,340.0 517.0,340.8 518.0,338.9 519.0,338.9 520.0,338.9 521.0,340.3 522.0,340.7 523.0,341.4 524.0,338.3 525.0,341.4 526.0,342.2 527.0,340.8 528.0,338.8 529.0,340.0 530.0,338.8 531.0,339.8 532.0,343.2 533.0,341.9 534.0,342.3 535.0,343.0 536.0,343.7 537.0,342.6 538.0,342.7 539.0,342.9 540.0,343.4 541.0,343.1 542.0,343.6 543.0,341.7 544.0,343.9 545.0,343.1 546.0,344.6 547.0,341.9 548.0,342.4 549.0,341.9 550.0,345.3 551.0,346.1 552.0,345.1 553.0,344.0 554.0,346.1 555.0,346.1 556.0,345.3 557.0,338.0 557.6,424.0 558.0,424.0 559.0,424.3 560.0,424.8 561.0,424.4 562.0,424.9 563.0,425.8 564.0,427.0 565.0,423.6 566.0,425.7 567.0,423.6 568.0,424.0 569.0,426.8 570.0,425.9 571.0,427.3 572.0,425.5 573.0,423.8 574.0,425.3 575.0,426.2 576.0,427.6 577.0,427.8 578.0,425.9 579.0,425.6 580.0,424.5 581.0,426.7 582.0,425.0 583.0,424.8 584.0,424.3 585.0,424.3 586.0,427.1 587.0,424.9 588.0,428.3 589.0,424.8 590.0,428.0 591.0,425.1 592.0,424.7 593.0,427.5 594.0,425.7 595.0,427.7 596.0,425.6 597.0,425.1 598.0,428.0 599.0,427.8 600.0,428.4 601.0,427.9 602.0,425.3 603.0,427.5 604.0,427.8 605.0,426.8 606.0,428.7 607.0,426.0 608.0,428.8 609.0,427.8 610.0,425.0 611.0,425.0 612.0,427.5 613.0,428.2 614.0,425.2 615.0,426.1 616.0,427.8 617.0,425.5 618.0,428.3 619.0,426.8 620.0,425.1 621.0,426.3 622.0,427.1 623.0,426.6 624.0,427.5 625.0,425.4 626.0,428.0 627.0,426.2 628.0,427.3 629.0,427.3 630.0,426.4 631.0,426.3 632.0,427.9 633.0,428.5 634.0,427.8 635.0,427.0 636.0,425.9 637.0,424.9 638.0,428.6 639.0,427.5 640.0,428.0 641.0,426.0 642.0,427.1 643.0,428.5 644.0,427.9 645.0,427.0 646.0,425.8 647.0,426.3 648.0,428.1 649.0,426.1 650.0,427.3 651.0,427.0 652.0,428.1 653.0,427.8 654.0,425.7 655.0,424.5 656.0,425.6 657.0,426.2 658.0,426.9 659.5,434.0 659.9,287.5 660.9,287.5 661.4,340.0 662.5,347.4 663.5,348.0 664.5,344.5 665.5,348.3 666.5,348.4 667.5,348.9 668.5,347.9 669.5,346.9 670.5,349.6 671.5,349.4 672.5,348.9 673.5,349.9 674.5,347.5 675.5,346.4 676.5,348.5 677.5,349.6 678.5,347.0 679.5,349.4 680.5,350.2 681.5,347.2 682.5,348.9 683.5,349.2 684.5,348.3 685.5,347.2 686.5,347.5 687.5,349.7 688.5,349.9 689.5,348.5 690.5,346.9 691.5,350.1 692.5,349.9 693.5,347.6 694.5,349.2 695.5,350.6 696.5,350.6 697.5,349.0 698.5,348.8 699.5,349.4 700.5,347.7 701.5,347.8 702.5,347.8 703.5,350.2 704.5,348.8 705.5,349.8 706.5,349.2 707.5,349.8 708.5,348.3 709.5,347.9 710.5,352.2 711.5,349.6 712.5,348.5 713.5,350.9 714.5,351.7 715.5,349.0 716.5,351.1 717.5,350.1 718.5,350.9 719.5,348.8 720.5,349.0 721.5,353.3 722.5,352.9 723.5,351.3 724.5,351.7 725.5,350.5 726.5,352.9 727.5,351.4 728.5,353.8 729.5,353.1 730.5,353.5 731.5,354.2 732.5,351.2 733.5,350.3 734.5,351.2 735.5,351.2 736.5,350.9 737.5,350.8 738.5,353.1 739.5,354.6 740.5,352.9 741.5,355.2 742.5,355.1 743.5,351.5 744.5,354.0 745.5,353.2 746.5,352.1 747.5,355.9 748.5,352.9 749.8,353.0 750.5,434.0 751.5,425.3 752.5,425.6 753.5,426.8 754.5,425.7 755.5,424.6 756.5,424.8 757.5,423.7 758.5,426.9 759.5,427.1 760.5,424.0 761.5,423.3 762.5,424.1 763.5,424.5 764.5,426.8 765.5,426.8 766.5,426.5 767.5,423.4 768.5,426.3 769.5,426.0 770.5,425.8 771.5,427.2 772.5,423.5 773.5,423.8 774.5,426.3 775.5,427.0 776.5,426.0 777.5,424.5 778.5,425.7 779.5,426.3 780.5,423.7 781.5,424.6 782.5,424.4 783.5,423.8 784.5,425.3 785.5,424.0 786.5,424.3 787.5,424.0 788.5,426.1 789.5,423.5 790.5,426.3 791.5,424.2 792.5,423.6 793.5,427.2 794.5,424.4 795.5,427.2 796.5,427.0" fill="none" stroke="#0c7878" stroke-width="4" stroke-linejoin="round" />
<polyline points="182.0,5.4 183.0,79.4 184.0,138.9 185.0,178.9 186.0,220.7 187.0,241.7 188.0,264.5 189.0,282.3 190.0,298.7 191.0,316.0 192.0,332.7 193.0,350.6 194.0,356.2 195.0,362.5 196.0,370.9 197.0,376.1 198.0,382.2 199.0,384.5 200.0,385.8 201.0,389.8 202.0,392.9 203.0,396.8 204.0,398.6 205.0,401.2 206.0,402.4 207.0,403.2 208.0,406.7 209.0,406.2 210.0,409.9 211.0,409.2 212.0,409.9 213.0,411.7 214.0,414.4 215.0,416.2 216.0,414.6 217.0,416.5 218.0,417.0 219.0,418.4 220.0,417.2 221.0,418.7 222.0,418.8 223.0,420.7 224.0,419.6 225.0,422.0 226.0,420.7 227.0,421.1 228.0,423.0 229.0,422.9 230.0,422.4 231.0,424.4 232.0,423.0 233.0,425.1 234.0,425.0 235.0,425.4 236.0,425.1 237.0,424.5 238.0,424.7 239.0,424.8 240.0,426.4 241.0,424.3 242.0,426.7 243.0,424.4 244.0,425.0 245.0,425.3 246.0,427.3 247.0,426.3 248.0,426.1 249.0,427.6 250.0,426.0 251.0,426.7 252.0,427.1 253.0,427.8 254.0,427.9 255.0,427.8 256.0,427.0 257.0,427.1 258.0,426.7 259.0,428.8 260.0,428.4 261.0,428.7 262.0,427.2 263.0,428.1 264.0,429.2 265.0,428.7 266.0,427.6 267.0,428.6 268.0,429.9 269.0,428.2 270.0,428.2 271.0,428.6 272.0,429.9 273.0,430.4 274.0,428.6 275.0,428.7 276.0,429.1 277.0,429.4 278.0,430.1" fill="none" stroke="#0c7878" stroke-width="4.8" stroke-linejoin="round" />
<polyline points="283.0,239.4 284.0,244.6 285.0,248.4 286.0,255.5 287.0,257.1 288.0,256.8 289.0,263.5 290.0,262.2 291.0,265.5 292.0,270.2 293.0,271.4 294.0,273.1 295.0,273.5 296.0,274.3 297.0,278.1 298.0,277.5 299.0,279.8 300.0,282.5 301.0,281.7 302.0,284.3 303.0,287.0 304.0,287.4 305.0,287.4 306.0,288.9 307.0,289.1 308.0,288.5 309.0,291.5 310.0,292.1 311.0,295.1 312.0,297.4 313.0,296.7 314.0,298.0 315.0,299.4 316.0,298.6 317.0,298.3 318.0,301.3 319.0,302.6 320.0,302.8 321.0,303.1 322.0,304.4 323.0,304.3 324.0,304.8 325.0,304.6 326.0,304.6 327.0,306.6 328.0,304.9 329.0,307.0 330.0,309.3 331.0,309.4 332.0,309.4 333.0,308.1 334.0,309.3 335.0,309.9 336.0,311.0 337.0,310.5 338.0,312.1 339.0,313.7 340.0,310.7 341.0,313.2 342.0,314.2 343.0,312.8 344.0,313.7 345.0,316.4 346.0,312.5 347.0,315.2 348.0,313.7 349.0,316.9 350.0,317.9 351.0,316.2 352.0,314.6 353.0,317.1 354.0,317.2 355.0,318.3 356.0,317.6 357.0,318.5 358.0,319.7 359.0,318.5 360.0,318.3 361.0,321.1 362.0,318.0 363.0,320.4 364.0,319.4 365.0,321.4 366.0,318.7 367.0,322.9 368.0,320.3" fill="none" stroke="#0c7878" stroke-width="6.5" stroke-linejoin="round" />
<polyline points="370.0,424.2 371.0,425.2 372.0,425.9 373.0,424.5 374.0,426.3 375.0,426.4 376.0,427.7 377.0,426.5 378.0,426.3 379.0,426.2 380.0,428.5 381.0,429.3 382.0,427.8 383.0,426.6 384.0,429.0 385.0,427.4 386.0,426.8 387.0,426.5 388.0,429.2 389.0,429.4 390.0,428.8 391.0,428.2 392.0,428.6 393.0,427.4 394.0,430.4 395.0,428.0 396.0,429.3 397.0,430.0 398.0,430.1 399.0,428.8 400.0,428.2 401.0,429.2 402.0,427.5 403.0,430.4 404.0,428.5 405.0,430.5 406.0,428.2 407.0,428.6 408.0,428.1 409.0,428.9 410.0,427.9 411.0,427.2 412.0,430.1 413.0,428.3 414.0,428.2 415.0,428.5 416.0,429.2 417.0,429.0 418.0,429.8 419.0,430.0 420.0,428.8 421.0,431.1 422.0,430.8 423.0,427.6 424.0,430.7 425.0,431.0 426.0,430.6 427.0,428.0 428.0,430.8 429.0,430.0 430.0,427.6 431.0,427.6 432.0,431.4 433.0,430.2 434.0,428.6 435.0,428.1 436.0,428.2 437.0,428.6 438.0,430.8 439.0,429.2 440.0,428.4 441.0,431.4 442.0,431.0 443.0,428.6 444.0,431.5 445.0,430.4 446.0,431.1 447.0,430.7 448.0,431.6 449.0,431.2 450.0,431.4 451.0,428.9 452.0,430.9 453.0,430.3 454.0,431.2 455.0,430.0 456.0,431.8 457.0,430.5 458.0,429.4 459.0,429.3 460.0,428.9 461.0,430.4 462.0,428.7 463.0,430.3 464.0,429.1" fill="none" stroke="#0c7878" stroke-width="5.8" stroke-linejoin="round" />
<polyline points="470.0,328.0 471.0,329.3 472.0,330.8 473.0,333.6 474.0,330.1 475.0,334.1 476.0,332.7 477.0,333.4 478.0,334.2 479.0,335.2 480.0,333.4 481.0,333.8 482.0,336.4 483.0,332.7 484.0,335.3 485.0,335.5 486.0,333.0 487.0,335.7 488.0,336.2 489.0,337.5 490.0,335.0 491.0,338.0 492.0,336.1 493.0,336.2 494.0,338.2 495.0,334.6 496.0,337.8 497.0,337.5 498.0,336.4 499.0,338.9 500.0,336.9 501.0,337.5 502.0,337.8 503.0,339.0 504.0,336.7 505.0,337.8 506.0,337.9 507.0,338.6 508.0,339.9 509.0,337.6 510.0,340.1 511.0,338.4 512.0,338.9 513.0,338.0 514.0,339.2 515.0,341.3 516.0,340.0 517.0,340.8 518.0,338.9 519.0,338.9 520.0,338.9 521.0,340.3 522.0,340.7 523.0,341.4 524.0,338.3 525.0,341.4 526.0,342.2 527.0,340.8 528.0,338.8 529.0,340.0 530.0,338.8 531.0,339.8 532.0,343.2 533.0,341.9 534.0,342.3 535.0,343.0 536.0,343.7 537.0,342.6 538.0,342.7 539.0,342.9 540.0,343.4 541.0,343.1 542.0,343.6 543.0,341.7 544.0,343.9 545.0,343.1 546.0,344.6 547.0,341.9 548.0,342.4 549.0,341.9 550.0,345.3 551.0,346.1 552.0,345.1 553.0,344.0 554.0,346.1 555.0,346.1 556.0,345.3" fill="none" stroke="#0c7878" stroke-width="6.2" stroke-linejoin="round" />
<polyline points="558.0,424.0 559.0,424.3 560.0,424.8 561.0,424.4 562.0,424.9 563.0,425.8 564.0,427.0 565.0,423.6 566.0,425.7 567.0,423.6 568.0,424.0 569.0,426.8 570.0,425.9 571.0,427.3 572.0,425.5 573.0,423.8 574.0,425.3 575.0,426.2 576.0,427.6 577.0,427.8 578.0,425.9 579.0,425.6 580.0,424.5 581.0,426.7 582.0,425.0 583.0,424.8 584.0,424.3 585.0,424.3 586.0,427.1 587.0,424.9 588.0,428.3 589.0,424.8 590.0,428.0 591.0,425.1 592.0,424.7 593.0,427.5 594.0,425.7 595.0,427.7 596.0,425.6 597.0,425.1 598.0,428.0 599.0,427.8 600.0,428.4 601.0,427.9 602.0,425.3 603.0,427.5 604.0,427.8 605.0,426.8 606.0,428.7 607.0,426.0 608.0,428.8 609.0,427.8 610.0,425.0 611.0,425.0 612.0,427.5 613.0,428.2 614.0,425.2 615.0,426.1 616.0,427.8 617.0,425.5 618.0,428.3 619.0,426.8 620.0,425.1 621.0,426.3 622.0,427.1 623.0,426.6 624.0,427.5 625.0,425.4 626.0,428.0 627.0,426.2 628.0,427.3 629.0,427.3 630.0,426.4 631.0,426.3 632.0,427.9 633.0,428.5 634.0,427.8 635.0,427.0 636.0,425.9 637.0,424.9 638.0,428.6 639.0,427.5 640.0,428.0 641.0,426.0 642.0,427.1 643.0,428.5 644.0,427.9 645.0,427.0 646.0,425.8 647.0,426.3 648.0,428.1 649.0,426.1 650.0,427.3 651.0,427.0 652.0,428.1 653.0,427.8 654.0,425.7 655.0,424.5 656.0,425.6 657.0,426.2 658.0,426.9" fill="none" stroke="#0c7878" stroke-width="5.8" stroke-linejoin="round" />
<polyline points="662.5,347.4 663.5,348.0 664.5,344.5 665.5,348.3 666.5,348.4 667.5,348.9 668.5,347.9 669.5,346.9 670.5,349.6 671.5,349.4 672.5,348.9 673.5,349.9 674.5,347.5 675.5,346.4 676.5,348.5 677.5,349.6 678.5,347.0 679.5,349.4 680.5,350.2 681.5,347.2 682.5,348.9 683.5,349.2 684.5,348.3 685.5,347.2 686.5,347.5 687.5,349.7 688.5,349.9 689.5,348.5 690.5,346.9 691.5,350.1 692.5,349.9 693.5,347.6 694.5,349.2 695.5,350.6 696.5,350.6 697.5,349.0 698.5,348.8 699.5,349.4 700.5,347.7 701.5,347.8 702.5,347.8 703.5,350.2 704.5,348.8 705.5,349.8 706.5,349.2 707.5,349.8 708.5,348.3 709.5,347.9 710.5,352.2 711.5,349.6 712.5,348.5 713.5,350.9 714.5,351.7 715.5,349.0 716.5,351.1 717.5,350.1 718.5,350.9 719.5,348.8 720.5,349.0 721.5,353.3 722.5,352.9 723.5,351.3 724.5,351.7 725.5,350.5 726.5,352.9 727.5,351.4 728.5,353.8 729.5,353.1 730.5,353.5 731.5,354.2 732.5,351.2 733.5,350.3 734.5,351.2 735.5,351.2 736.5,350.9 737.5,350.8 738.5,353.1 739.5,354.6 740.5,352.9 741.5,355.2 742.5,355.1 743.5,351.5 744.5,354.0 745.5,353.2 746.5,352.1 747.5,355.9 748.5,352.9" fill="none" stroke="#0c7878" stroke-width="6.2" stroke-linejoin="round" />
<polyline points="751.5,425.3 752.5,425.6 753.5,426.8 754.5,425.7 755.5,424.6 756.5,424.8 757.5,423.7 758.5,426.9 759.5,427.1 760.5,424.0 761.5,423.3 762.5,424.1 763.5,424.5 764.5,426.8 765.5,426.8 766.5,426.5 767.5,423.4 768.5,426.3 769.5,426.0 770.5,425.8 771.5,427.2 772.5,423.5 773.5,423.8 774.5,426.3 775.5,427.0 776.5,426.0 777.5,424.5 778.5,425.7 779.5,426.3 780.5,423.7 781.5,424.6 782.5,424.4 783.5,423.8 784.5,425.3 785.5,424.0 786.5,424.3 787.5,424.0 788.5,426.1 789.5,423.5 790.5,426.3 791.5,424.2 792.5,423.6 793.5,427.2 794.5,424.4 795.5,427.2 796.5,427.0" fill="none" stroke="#0c7878" stroke-width="5.8" stroke-linejoin="round" />
</g>
<line x1="179.5" y1="460.5" x2="179.5" y2="470.5" stroke="#000" stroke-width="2.4" stroke-linecap="butt"/>
<text transform="translate(179.5,494.3) scale(1.13,1)" font-size="25.3" text-anchor="middle" fill="#000" >0</text>
<line x1="226.9" y1="460.5" x2="226.9" y2="466.0" stroke="#000" stroke-width="2.4" stroke-linecap="butt"/>
<line x1="274.4" y1="460.5" x2="274.4" y2="470.5" stroke="#000" stroke-width="2.4" stroke-linecap="butt"/>
<text transform="translate(274.4,494.3) scale(1.13,1)" font-size="25.3" text-anchor="middle" fill="#000" >20</text>
<line x1="321.9" y1="460.5" x2="321.9" y2="466.0" stroke="#000" stroke-width="2.4" stroke-linecap="butt"/>
<line x1="369.3" y1="460.5" x2="369.3" y2="470.5" stroke="#000" stroke-width="2.4" stroke-linecap="butt"/>
<text transform="translate(369.3,494.3) scale(1.13,1)" font-size="25.3" text-anchor="middle" fill="#000" >40</text>
<line x1="416.8" y1="460.5" x2="416.8" y2="466.0" stroke="#000" stroke-width="2.4" stroke-linecap="butt"/>
<line x1="464.2" y1="460.5" x2="464.2" y2="470.5" stroke="#000" stroke-width="2.4" stroke-linecap="butt"/>
<text transform="translate(464.2,494.3) scale(1.13,1)" font-size="25.3" text-anchor="middle" fill="#000" >60</text>
<line x1="511.7" y1="460.5" x2="511.7" y2="466.0" stroke="#000" stroke-width="2.4" stroke-linecap="butt"/>
<line x1="559.1" y1="460.5" x2="559.1" y2="470.5" stroke="#000" stroke-width="2.4" stroke-linecap="butt"/>
<text transform="translate(559.1,494.3) scale(1.13,1)" font-size="25.3" text-anchor="middle" fill="#000" >80</text>
<line x1="606.5" y1="460.5" x2="606.5" y2="466.0" stroke="#000" stroke-width="2.4" stroke-linecap="butt"/>
<line x1="654.0" y1="460.5" x2="654.0" y2="470.5" stroke="#000" stroke-width="2.4" stroke-linecap="butt"/>
<text transform="translate(654.0,494.3) scale(1.13,1)" font-size="25.3" text-anchor="middle" fill="#000" >100</text>
<line x1="701.5" y1="460.5" x2="701.5" y2="466.0" stroke="#000" stroke-width="2.4" stroke-linecap="butt"/>
<line x1="748.9" y1="460.5" x2="748.9" y2="470.5" stroke="#000" stroke-width="2.4" stroke-linecap="butt"/>
<text transform="translate(748.9,494.3) scale(1.13,1)" font-size="25.3" text-anchor="middle" fill="#000" >120</text>
<line x1="796.4" y1="460.5" x2="796.4" y2="466.0" stroke="#000" stroke-width="2.4" stroke-linecap="butt"/>
<line x1="169.6" y1="460.5" x2="179.6" y2="460.5" stroke="#000" stroke-width="2.4" stroke-linecap="butt"/>
<line x1="174.1" y1="405.0" x2="179.6" y2="405.0" stroke="#000" stroke-width="2.4" stroke-linecap="butt"/>
<line x1="169.6" y1="349.5" x2="179.6" y2="349.5" stroke="#000" stroke-width="2.4" stroke-linecap="butt"/>
<line x1="174.1" y1="294.0" x2="179.6" y2="294.0" stroke="#000" stroke-width="2.4" stroke-linecap="butt"/>
<line x1="169.6" y1="238.5" x2="179.6" y2="238.5" stroke="#000" stroke-width="2.4" stroke-linecap="butt"/>
<line x1="174.1" y1="183.0" x2="179.6" y2="183.0" stroke="#000" stroke-width="2.4" stroke-linecap="butt"/>
<line x1="169.6" y1="127.5" x2="179.6" y2="127.5" stroke="#000" stroke-width="2.4" stroke-linecap="butt"/>
<line x1="174.1" y1="72.0" x2="179.6" y2="72.0" stroke="#000" stroke-width="2.4" stroke-linecap="butt"/>
<line x1="169.6" y1="16.5" x2="179.6" y2="16.5" stroke="#000" stroke-width="2.4" stroke-linecap="butt"/>
<text transform="translate(163.0,465.2) scale(1.16,1)" font-size="25.3" text-anchor="end" fill="#000" >0.0</text>
<text transform="translate(149.0,358.8) scale(1.16,1)" font-size="25.3" text-anchor="end" fill="#000" >4.0x10</text>
<text transform="translate(149.5,344.5) scale(1.16,1)" font-size="13" text-anchor="start" fill="#000" >-7</text>
<text transform="translate(149.0,247.8) scale(1.16,1)" font-size="25.3" text-anchor="end" fill="#000" >8.0x10</text>
<text transform="translate(149.5,233.5) scale(1.16,1)" font-size="13" text-anchor="start" fill="#000" >-7</text>
<text transform="translate(149.0,136.8) scale(1.16,1)" font-size="25.3" text-anchor="end" fill="#000" >1.2x10</text>
<text transform="translate(149.5,122.5) scale(1.16,1)" font-size="13" text-anchor="start" fill="#000" >-6</text>
<text transform="translate(149.0,25.8) scale(1.16,1)" font-size="25.3" text-anchor="end" fill="#000" >1.6x10</text>
<text transform="translate(149.5,11.5) scale(1.16,1)" font-size="13" text-anchor="start" fill="#000" >-6</text>
<text transform="translate(31.0,237.5) scale(1.09,1) rotate(-90)" font-size="38.2" text-anchor="middle" fill="#000" >Photo current (A)</text>
<text transform="translate(504.0,551.0) scale(1.13,1)" font-size="38.5" text-anchor="middle" fill="#000" >Irradiation time (s)</text>
<text transform="translate(757.3,56.3) scale(1.1,1)" font-size="33.6" text-anchor="middle" fill="#000" >(a)</text>
<line x1="331.0" y1="41.8" x2="394.0" y2="41.8" stroke="#d80000" stroke-width="4" stroke-linecap="round"/>
<text transform="translate(399.0,50.4) scale(1.1,1)" font-size="22" text-anchor="start" fill="#000"  letter-spacing="1.5">3D-TiO<tspan font-size="13" dy="9">2</tspan></text>
<line x1="331.0" y1="80.0" x2="394.0" y2="80.0" stroke="#0000c8" stroke-width="4" stroke-linecap="round"/>
<text transform="translate(399.0,88.6) scale(1.1,1)" font-size="22" text-anchor="start" fill="#000"  letter-spacing="1.5">Magnetic 3D-TiO<tspan font-size="13" dy="9">2</tspan></text>
<line x1="331.0" y1="118.2" x2="394.0" y2="118.2" stroke="#0a6e6e" stroke-width="4" stroke-linecap="round"/>
<text transform="translate(399.0,126.8) scale(1.1,1)" font-size="22" text-anchor="start" fill="#000"  letter-spacing="1.5">Magnetic 3D-TiO<tspan font-size="13" dy="9">2</tspan><tspan dy="-9">@HPGA</tspan></text>
<text transform="translate(258.5,160.7) scale(0.975,1) rotate(-90)" font-size="20.7" text-anchor="middle" fill="#000" >light on</text>
<line x1="271.8" y1="127.0" x2="271.8" y2="202.6" stroke="#000" stroke-width="1.6" stroke-linecap="butt"/>
<path d="M269.3,135 L271.8,127 L272.8,132" fill="none" stroke="#000" stroke-width="1.6"/>
<text transform="translate(399.2,327.7) scale(0.975,1) rotate(-90)" font-size="20.7" text-anchor="middle" fill="#000" >light off</text>
<line x1="375.8" y1="296.0" x2="375.8" y2="365.5" stroke="#000" stroke-width="1.6" stroke-linecap="butt"/>
<path d="M373.3,357.5 L375.8,365.5 L376.8,360.5" fill="none" stroke="#000" stroke-width="1.6"/>
<text transform="translate(448.5,304.4) scale(0.975,1) rotate(-90)" font-size="20.7" text-anchor="middle" fill="#000" >light on</text>
<line x1="457.6" y1="265.0" x2="457.6" y2="342.0" stroke="#000" stroke-width="1.6" stroke-linecap="butt"/>
<path d="M455.1,273 L457.6,265 L458.6,270" fill="none" stroke="#000" stroke-width="1.6"/>
<text transform="translate(589.8,348.9) scale(0.975,1) rotate(-90)" font-size="20.7" text-anchor="middle" fill="#000" >light off</text>
<line x1="565.8" y1="318.0" x2="565.8" y2="387.0" stroke="#000" stroke-width="1.6" stroke-linecap="butt"/>
<path d="M563.3,379 L565.8,387 L566.8,382" fill="none" stroke="#000" stroke-width="1.6"/>
<text transform="translate(643.8,321.3) scale(0.975,1) rotate(-90)" font-size="20.7" text-anchor="middle" fill="#000" >light on</text>
<line x1="651.8" y1="284.5" x2="651.8" y2="358.7" stroke="#000" stroke-width="1.6" stroke-linecap="butt"/>
<path d="M649.3,292.5 L651.8,284.5 L652.8,289.5" fill="none" stroke="#000" stroke-width="1.6"/>
<text transform="translate(778.5,373.2) scale(0.975,1) rotate(-90)" font-size="20.7" text-anchor="middle" fill="#000" >light off</text>
<line x1="756.4" y1="338.0" x2="756.4" y2="406.5" stroke="#000" stroke-width="1.6" stroke-linecap="butt"/>
<path d="M753.9,398.5 L756.4,406.5 L757.4,401.5" fill="none" stroke="#000" stroke-width="1.6"/>
<defs><clipPath id="cb"><rect x="992" y="16" width="625" height="462"/></clipPath></defs>
<g clip-path="url(#cb)">
<polyline points="1447.8,65.2 1385.3,129.4 1334.3,186.7 1293.8,237.0 1258.5,278.0 1225.8,312.0 1196.2,339.5 1170.9,362.3 1148.8,381.3 1130.4,397.4 1113.0,410.7 1098.2,421.7 1085.5,431.2 1074.2,438.8 1064.4,445.3 1056.0,450.9 1048.7,455.6 1042.5,459.7 1037.1,463.2 1032.5,466.2 1028.5,468.7 1025.2,471.2 1022.6,473.5 1021.0,475.0" fill="none" stroke="#9a0000" stroke-width="2" stroke-linejoin="round" />
<circle cx="1447.8" cy="65.2" r="7.2" fill="#f00000"/>
<circle cx="1385.3" cy="129.4" r="7.2" fill="#f00000"/>
<circle cx="1334.3" cy="186.7" r="7.2" fill="#f00000"/>
<circle cx="1293.8" cy="237.0" r="7.2" fill="#f00000"/>
<circle cx="1258.5" cy="278.0" r="7.2" fill="#f00000"/>
<circle cx="1225.8" cy="312.0" r="7.2" fill="#f00000"/>
<circle cx="1196.2" cy="339.5" r="7.2" fill="#f00000"/>
<circle cx="1170.9" cy="362.3" r="7.2" fill="#f00000"/>
<circle cx="1148.8" cy="381.3" r="7.2" fill="#f00000"/>
<circle cx="1130.4" cy="397.4" r="7.2" fill="#f00000"/>
<circle cx="1113.0" cy="410.7" r="7.2" fill="#f00000"/>
<circle cx="1098.2" cy="421.7" r="7.2" fill="#f00000"/>
<circle cx="1085.5" cy="431.2" r="7.2" fill="#f00000"/>
<circle cx="1074.2" cy="438.8" r="7.2" fill="#f00000"/>
<circle cx="1064.4" cy="445.3" r="7.2" fill="#f00000"/>
<circle cx="1056.0" cy="450.9" r="7.2" fill="#f00000"/>
<circle cx="1048.7" cy="455.6" r="7.2" fill="#f00000"/>
<circle cx="1042.5" cy="459.7" r="7.2" fill="#f00000"/>
<circle cx="1037.1" cy="463.2" r="7.2" fill="#f00000"/>
<circle cx="1032.5" cy="466.2" r="7.2" fill="#f00000"/>
<circle cx="1028.5" cy="468.7" r="7.2" fill="#f00000"/>
<circle cx="1025.2" cy="471.2" r="7.2" fill="#f00000"/>
<circle cx="1022.6" cy="473.5" r="7.2" fill="#f00000"/>
<circle cx="1021.0" cy="475.0" r="7.2" fill="#f00000"/>
<polyline points="1218.3,163.7 1185.8,218.0 1158.2,262.5 1137.7,299.5 1124.0,329.5 1108.3,355.0 1095.2,376.0 1082.8,392.0 1072.7,405.3 1063.7,417.8 1056.0,426.7 1050.0,434.9 1044.9,441.9 1040.5,448.0 1036.7,453.2 1033.5,457.7 1030.7,461.5 1028.3,464.8 1026.2,467.7 1024.4,470.1 1022.9,472.2 1021.5,474.0 1020.4,475.5 1019.1,476.6 1017.9,477.4 1017.0,478.0" fill="none" stroke="#000080" stroke-width="2" stroke-linejoin="round" />
<path d="M1218.3,155.9 L1227.8,171.4 L1208.8,171.4 Z" fill="#0000f0"/>
<path d="M1185.8,210.2 L1195.3,225.8 L1176.3,225.8 Z" fill="#0000f0"/>
<path d="M1158.2,254.8 L1167.7,270.2 L1148.7,270.2 Z" fill="#0000f0"/>
<path d="M1137.7,291.8 L1147.2,307.2 L1128.2,307.2 Z" fill="#0000f0"/>
<path d="M1124.0,321.8 L1133.5,337.2 L1114.5,337.2 Z" fill="#0000f0"/>
<path d="M1108.3,347.2 L1117.8,362.8 L1098.8,362.8 Z" fill="#0000f0"/>
<path d="M1095.2,368.2 L1104.7,383.8 L1085.7,383.8 Z" fill="#0000f0"/>
<path d="M1082.8,384.2 L1092.3,399.8 L1073.3,399.8 Z" fill="#0000f0"/>
<path d="M1072.7,397.6 L1082.2,413.1 L1063.2,413.1 Z" fill="#0000f0"/>
<path d="M1063.7,410.1 L1073.2,425.6 L1054.2,425.6 Z" fill="#0000f0"/>
<path d="M1056.0,418.9 L1065.5,434.4 L1046.5,434.4 Z" fill="#0000f0"/>
<path d="M1050.0,427.1 L1059.5,442.6 L1040.5,442.6 Z" fill="#0000f0"/>
<path d="M1044.9,434.2 L1054.4,449.7 L1035.4,449.7 Z" fill="#0000f0"/>
<path d="M1040.5,440.2 L1050.0,455.7 L1031.0,455.7 Z" fill="#0000f0"/>
<path d="M1036.7,445.4 L1046.2,460.9 L1027.2,460.9 Z" fill="#0000f0"/>
<path d="M1033.5,449.9 L1043.0,465.4 L1024.0,465.4 Z" fill="#0000f0"/>
<path d="M1030.7,453.8 L1040.2,469.3 L1021.2,469.3 Z" fill="#0000f0"/>
<path d="M1028.3,457.1 L1037.8,472.6 L1018.8,472.6 Z" fill="#0000f0"/>
<path d="M1026.2,459.9 L1035.7,475.4 L1016.7,475.4 Z" fill="#0000f0"/>
<path d="M1024.4,462.4 L1033.9,477.9 L1014.9,477.9 Z" fill="#0000f0"/>
<path d="M1022.9,464.4 L1032.4,479.9 L1013.4,479.9 Z" fill="#0000f0"/>
<path d="M1021.5,466.2 L1031.0,481.7 L1012.0,481.7 Z" fill="#0000f0"/>
<path d="M1020.4,467.8 L1029.9,483.3 L1010.9,483.3 Z" fill="#0000f0"/>
<path d="M1019.1,468.8 L1028.6,484.3 L1009.6,484.3 Z" fill="#0000f0"/>
<path d="M1017.9,469.7 L1027.4,485.2 L1008.4,485.2 Z" fill="#0000f0"/>
<path d="M1017.0,470.2 L1026.5,485.8 L1007.5,485.8 Z" fill="#0000f0"/>
<polyline points="1121.5,246.8 1094.8,284.6 1075.3,318.0 1062.5,345.8 1053.0,368.5 1044.8,389.5 1038.0,404.0 1032.0,416.0 1027.0,426.6 1023.0,435.8 1019.5,443.8 1016.6,450.6 1014.2,456.6 1012.1,461.7 1010.4,466.1 1008.5,469.7 1006.7,472.7 1004.8,475.0 1002.7,476.6 1001.0,478.0 999.1,478.5 997.5,478.9 997.0,479.0" fill="none" stroke="#0a6a6a" stroke-width="2" stroke-linejoin="round" />
<path d="M1121.5,254.6 L1131.0,239.1 L1112.0,239.1 Z" fill="#0c7c7c"/>
<path d="M1094.8,292.4 L1104.3,276.9 L1085.3,276.9 Z" fill="#0c7c7c"/>
<path d="M1075.3,325.8 L1084.8,310.2 L1065.8,310.2 Z" fill="#0c7c7c"/>
<path d="M1062.5,353.6 L1072.0,338.1 L1053.0,338.1 Z" fill="#0c7c7c"/>
<path d="M1053.0,376.2 L1062.5,360.8 L1043.5,360.8 Z" fill="#0c7c7c"/>
<path d="M1044.8,397.2 L1054.3,381.8 L1035.3,381.8 Z" fill="#0c7c7c"/>
<path d="M1038.0,411.8 L1047.5,396.2 L1028.5,396.2 Z" fill="#0c7c7c"/>
<path d="M1032.0,423.8 L1041.5,408.2 L1022.5,408.2 Z" fill="#0c7c7c"/>
<path d="M1027.0,434.4 L1036.5,418.9 L1017.5,418.9 Z" fill="#0c7c7c"/>
<path d="M1023.0,443.6 L1032.5,428.1 L1013.5,428.1 Z" fill="#0c7c7c"/>
<path d="M1019.5,451.6 L1029.0,436.1 L1010.0,436.1 Z" fill="#0c7c7c"/>
<path d="M1016.6,458.4 L1026.1,442.9 L1007.1,442.9 Z" fill="#0c7c7c"/>
<path d="M1014.2,464.3 L1023.7,448.8 L1004.7,448.8 Z" fill="#0c7c7c"/>
<path d="M1012.1,469.4 L1021.6,453.9 L1002.6,453.9 Z" fill="#0c7c7c"/>
<path d="M1010.4,473.9 L1019.9,458.4 L1000.9,458.4 Z" fill="#0c7c7c"/>
<path d="M1008.5,477.5 L1018.0,462.0 L999.0,462.0 Z" fill="#0c7c7c"/>
<path d="M1006.7,480.5 L1016.2,465.0 L997.2,465.0 Z" fill="#0c7c7c"/>
<path d="M1004.8,482.7 L1014.3,467.2 L995.3,467.2 Z" fill="#0c7c7c"/>
<path d="M1002.7,484.4 L1012.2,468.9 L993.2,468.9 Z" fill="#0c7c7c"/>
<path d="M1001.0,485.7 L1010.5,470.2 L991.5,470.2 Z" fill="#0c7c7c"/>
<path d="M999.1,486.2 L1008.6,470.7 L989.6,470.7 Z" fill="#0c7c7c"/>
<path d="M997.5,486.6 L1007.0,471.1 L988.0,471.1 Z" fill="#0c7c7c"/>
<path d="M997.0,486.8 L1006.5,471.2 L987.5,471.2 Z" fill="#0c7c7c"/>
</g>
<rect x="991.0" y="15.2" width="627.0" height="463.6" fill="none" stroke="#000" stroke-width="2.8"/>
<line x1="990.5" y1="478.8" x2="990.5" y2="488.8" stroke="#000" stroke-width="2.4" stroke-linecap="butt"/>
<text transform="translate(990.5,514.3) scale(1.1,1)" font-size="27.4" text-anchor="middle" fill="#000" >0</text>
<line x1="1053.3" y1="478.8" x2="1053.3" y2="484.3" stroke="#000" stroke-width="2.4" stroke-linecap="butt"/>
<line x1="1116.0" y1="478.8" x2="1116.0" y2="488.8" stroke="#000" stroke-width="2.4" stroke-linecap="butt"/>
<text transform="translate(1116.0,514.3) scale(1.1,1)" font-size="27.4" text-anchor="middle" fill="#000" >500</text>
<line x1="1178.8" y1="478.8" x2="1178.8" y2="484.3" stroke="#000" stroke-width="2.4" stroke-linecap="butt"/>
<line x1="1241.6" y1="478.8" x2="1241.6" y2="488.8" stroke="#000" stroke-width="2.4" stroke-linecap="butt"/>
<text transform="translate(1241.6,514.3) scale(1.1,1)" font-size="27.4" text-anchor="middle" fill="#000" >1000</text>
<line x1="1304.4" y1="478.8" x2="1304.4" y2="484.3" stroke="#000" stroke-width="2.4" stroke-linecap="butt"/>
<line x1="1367.2" y1="478.8" x2="1367.2" y2="488.8" stroke="#000" stroke-width="2.4" stroke-linecap="butt"/>
<text transform="translate(1367.2,514.3) scale(1.1,1)" font-size="27.4" text-anchor="middle" fill="#000" >1500</text>
<line x1="1429.9" y1="478.8" x2="1429.9" y2="484.3" stroke="#000" stroke-width="2.4" stroke-linecap="butt"/>
<line x1="1492.7" y1="478.8" x2="1492.7" y2="488.8" stroke="#000" stroke-width="2.4" stroke-linecap="butt"/>
<text transform="translate(1492.7,514.3) scale(1.1,1)" font-size="27.4" text-anchor="middle" fill="#000" >2000</text>
<line x1="1555.5" y1="478.8" x2="1555.5" y2="484.3" stroke="#000" stroke-width="2.4" stroke-linecap="butt"/>
<line x1="1618.2" y1="478.8" x2="1618.2" y2="488.8" stroke="#000" stroke-width="2.4" stroke-linecap="butt"/>
<text transform="translate(1618.2,514.3) scale(1.1,1)" font-size="27.4" text-anchor="middle" fill="#000" >2500</text>
<line x1="982.0" y1="478.8" x2="991.0" y2="478.8" stroke="#000" stroke-width="2.4" stroke-linecap="butt"/>
<text transform="translate(975.0,486.3) scale(1.08,1)" font-size="27.8" text-anchor="end" fill="#000" >0</text>
<line x1="985.5" y1="427.3" x2="991.0" y2="427.3" stroke="#000" stroke-width="2.4" stroke-linecap="butt"/>
<line x1="982.0" y1="375.9" x2="991.0" y2="375.9" stroke="#000" stroke-width="2.4" stroke-linecap="butt"/>
<text transform="translate(975.0,383.4) scale(1.08,1)" font-size="27.8" text-anchor="end" fill="#000" >5000</text>
<line x1="985.5" y1="324.4" x2="991.0" y2="324.4" stroke="#000" stroke-width="2.4" stroke-linecap="butt"/>
<line x1="982.0" y1="272.9" x2="991.0" y2="272.9" stroke="#000" stroke-width="2.4" stroke-linecap="butt"/>
<text transform="translate(975.0,280.4) scale(1.08,1)" font-size="27.8" text-anchor="end" fill="#000" >10000</text>
<line x1="985.5" y1="221.4" x2="991.0" y2="221.4" stroke="#000" stroke-width="2.4" stroke-linecap="butt"/>
<line x1="982.0" y1="169.9" x2="991.0" y2="169.9" stroke="#000" stroke-width="2.4" stroke-linecap="butt"/>
<text transform="translate(975.0,177.4) scale(1.08,1)" font-size="27.8" text-anchor="end" fill="#000" >15000</text>
<line x1="985.5" y1="118.5" x2="991.0" y2="118.5" stroke="#000" stroke-width="2.4" stroke-linecap="butt"/>
<line x1="982.0" y1="67.0" x2="991.0" y2="67.0" stroke="#000" stroke-width="2.4" stroke-linecap="butt"/>
<text transform="translate(975.0,74.5) scale(1.08,1)" font-size="27.8" text-anchor="end" fill="#000" >20000</text>
<line x1="985.5" y1="15.5" x2="991.0" y2="15.5" stroke="#000" stroke-width="2.4" stroke-linecap="butt"/>
<text transform="translate(1295.3,572.3) scale(1.16,1)" font-size="33.5" text-anchor="middle" fill="#000" >Z&#8242; <tspan font-weight="normal">(</tspan>&#937;<tspan font-weight="normal">)</tspan></text>
<text transform="translate(871.3,314.8) scale(1.0,1) rotate(-90)" font-size="38.5" text-anchor="middle" fill="#000"  font-weight="normal">-</text>
<text transform="translate(871.3,289.5) scale(1.0,1) rotate(-90)" font-size="38.5" text-anchor="middle" fill="#000"  font-weight="normal">Z</text>
<text transform="translate(871.3,266.0) scale(1.0,1) rotate(-90)" font-size="38.5" text-anchor="middle" fill="#000"  font-weight="normal">&#8243;</text>
<text transform="translate(871.3,219.8) scale(1.0,1) rotate(-90)" font-size="38.5" text-anchor="middle" fill="#000"  font-weight="normal">(&#937;)</text>
<text transform="translate(1575.6,55.3) scale(1.18,1)" font-size="29.3" text-anchor="middle" fill="#000" >(b)</text>
<line x1="997.6" y1="31.6" x2="1058.0" y2="31.6" stroke="#b00000" stroke-width="2.6" stroke-linecap="butt"/>
<circle cx="1028.0" cy="31.6" r="7.3" fill="#f00000"/>
<text transform="translate(1064.0,39.6) scale(1.1,1)" font-size="21" text-anchor="start" fill="#000"  letter-spacing="1.4">3D-TiO<tspan font-size="12.5" dy="9.5">2</tspan></text>
<line x1="997.6" y1="69.4" x2="1058.0" y2="69.4" stroke="#0000a0" stroke-width="2.6" stroke-linecap="butt"/>
<path d="M1028.0,59.9 L1037.5,74.9 L1018.5,74.9 Z" fill="#0000f0"/>
<text transform="translate(1064.0,77.4) scale(1.1,1)" font-size="21" text-anchor="start" fill="#000"  letter-spacing="1.4">Magnetic 3D-TiO<tspan font-size="12.5" dy="9.5">2</tspan></text>
<line x1="997.6" y1="107.2" x2="1058.0" y2="107.2" stroke="#0c6c6c" stroke-width="2.6" stroke-linecap="butt"/>
<path d="M1028.0,116.7 L1037.5,101.7 L1018.5,101.7 Z" fill="#0c7c7c"/>
<text transform="translate(1064.0,115.2) scale(1.1,1)" font-size="21" text-anchor="start" fill="#000"  letter-spacing="1.4">Magnetic 3D-TiO<tspan font-size="12.5" dy="9.5">2</tspan><tspan dy="-9.5">@HPGA</tspan></text>
<rect x="1343.2" y="236.2" width="252.79999999999995" height="209.8" fill="#fff" stroke="none"/>
<defs><clipPath id="ci"><rect x="1344.2" y="237.2" width="250.79999999999995" height="207.8"/></clipPath></defs>
<g clip-path="url(#ci)">
<polyline points="1392.6,386.4 1413.2,389.8 1430.0,395.5 1445.1,401.0 1457.1,407.8 1474.2,418.9 1480.2,423.2 1493.0,431.8 1499.8,435.2 1508.4,432.6 1515.2,425.8 1519.5,416.4 1523.8,406.1 1527.2,396.7 1531.9,381.3 1536.7,364.6 1541.4,349.0 1547.0,327.5 1553.4,302.4 1561.5,270.8 1571.0,232.0" fill="none" stroke="#a00000" stroke-width="2" stroke-linejoin="round" />
<circle cx="1392.6" cy="386.4" r="3.3" fill="#f00000"/>
<circle cx="1403.7" cy="388.2" r="3.3" fill="#f00000"/>
<circle cx="1421.1" cy="392.5" r="3.3" fill="#f00000"/>
<circle cx="1435.7" cy="397.6" r="3.3" fill="#f00000"/>
<circle cx="1447.9" cy="402.6" r="3.3" fill="#f00000"/>
<circle cx="1457.9" cy="408.3" r="3.3" fill="#f00000"/>
<circle cx="1466.2" cy="413.7" r="3.3" fill="#f00000"/>
<circle cx="1473.3" cy="418.3" r="3.3" fill="#f00000"/>
<circle cx="1479.3" cy="422.6" r="3.3" fill="#f00000"/>
<circle cx="1484.6" cy="426.2" r="3.3" fill="#f00000"/>
<circle cx="1489.1" cy="429.2" r="3.3" fill="#f00000"/>
<circle cx="1493.0" cy="431.8" r="3.3" fill="#f00000"/>
<circle cx="1496.7" cy="433.6" r="3.3" fill="#f00000"/>
<circle cx="1499.8" cy="435.2" r="3.3" fill="#f00000"/>
<circle cx="1503.2" cy="434.2" r="3.3" fill="#f00000"/>
<circle cx="1507.0" cy="433.0" r="3.3" fill="#f00000"/>
<circle cx="1510.6" cy="430.4" r="3.3" fill="#f00000"/>
<circle cx="1514.2" cy="426.8" r="3.3" fill="#f00000"/>
<circle cx="1517.1" cy="421.7" r="3.3" fill="#f00000"/>
<circle cx="1519.9" cy="415.5" r="3.3" fill="#f00000"/>
<circle cx="1522.8" cy="408.4" r="3.3" fill="#f00000"/>
<circle cx="1525.9" cy="400.3" r="3.3" fill="#f00000"/>
<circle cx="1529.0" cy="390.8" r="3.3" fill="#f00000"/>
<circle cx="1532.3" cy="379.9" r="3.3" fill="#f00000"/>
<circle cx="1535.9" cy="367.4" r="3.3" fill="#f00000"/>
<circle cx="1540.1" cy="353.2" r="3.3" fill="#f00000"/>
<circle cx="1544.5" cy="337.0" r="3.3" fill="#f00000"/>
<circle cx="1549.3" cy="318.3" r="3.3" fill="#f00000"/>
<circle cx="1554.8" cy="297.1" r="3.3" fill="#f00000"/>
<circle cx="1561.0" cy="272.9" r="3.3" fill="#f00000"/>
<polyline points="1347.5,389.8 1363.0,390.5 1383.0,392.3 1401.5,397.0 1417.0,400.8 1429.2,407.7 1441.5,414.5 1452.8,423.2 1463.9,432.6 1474.2,435.6 1482.7,434.3 1489.6,428.3 1495.6,419.8 1501.5,410.4 1507.5,400.1 1510.3,394.5 1515.1,383.7 1520.6,369.4 1525.9,351.4 1531.9,333.5 1537.8,309.6 1543.8,280.8 1550.8,247.7 1554.0,232.0" fill="none" stroke="#000080" stroke-width="2" stroke-linejoin="round" />
<path d="M1350.1,386.5 L1354.2,393.3 L1346.0,393.3 Z" fill="#0000f0"/>
<path d="M1365.6,387.3 L1369.7,394.1 L1361.5,394.1 Z" fill="#0000f0"/>
<path d="M1381.0,388.7 L1385.1,395.5 L1376.9,395.5 Z" fill="#0000f0"/>
<path d="M1395.3,392.0 L1399.4,398.8 L1391.2,398.8 Z" fill="#0000f0"/>
<path d="M1407.9,395.2 L1412.0,402.0 L1403.8,402.0 Z" fill="#0000f0"/>
<path d="M1418.9,398.5 L1423.0,405.3 L1414.8,405.3 Z" fill="#0000f0"/>
<path d="M1427.7,403.5 L1431.8,410.3 L1423.6,410.3 Z" fill="#0000f0"/>
<path d="M1435.6,407.9 L1439.7,414.7 L1431.5,414.7 Z" fill="#0000f0"/>
<path d="M1442.5,411.9 L1446.6,418.7 L1438.4,418.7 Z" fill="#0000f0"/>
<path d="M1448.1,416.2 L1452.2,423.0 L1444.0,423.0 Z" fill="#0000f0"/>
<path d="M1453.0,420.0 L1457.1,426.8 L1448.9,426.8 Z" fill="#0000f0"/>
<path d="M1457.3,423.6 L1461.4,430.4 L1453.2,430.4 Z" fill="#0000f0"/>
<path d="M1461.0,426.7 L1465.1,433.5 L1456.9,433.5 Z" fill="#0000f0"/>
<path d="M1464.4,429.3 L1468.5,436.1 L1460.3,436.1 Z" fill="#0000f0"/>
<path d="M1468.1,430.4 L1472.2,437.2 L1464.0,437.2 Z" fill="#0000f0"/>
<path d="M1471.3,431.4 L1475.4,438.2 L1467.2,438.2 Z" fill="#0000f0"/>
<path d="M1474.2,432.2 L1478.3,439.0 L1470.1,439.0 Z" fill="#0000f0"/>
<path d="M1477.2,431.7 L1481.3,438.5 L1473.1,438.5 Z" fill="#0000f0"/>
<path d="M1480.5,431.2 L1484.6,438.0 L1476.4,438.0 Z" fill="#0000f0"/>
<path d="M1484.0,429.8 L1488.1,436.6 L1479.9,436.6 Z" fill="#0000f0"/>
<path d="M1487.4,426.9 L1491.5,433.7 L1483.3,433.7 Z" fill="#0000f0"/>
<path d="M1490.8,423.2 L1494.9,430.0 L1486.7,430.0 Z" fill="#0000f0"/>
<path d="M1494.1,418.5 L1498.2,425.3 L1490.0,425.3 Z" fill="#0000f0"/>
<path d="M1497.8,413.0 L1501.9,419.8 L1493.7,419.8 Z" fill="#0000f0"/>
<path d="M1501.7,406.6 L1505.8,413.4 L1497.6,413.4 Z" fill="#0000f0"/>
<path d="M1506.0,399.2 L1510.1,406.0 L1501.9,406.0 Z" fill="#0000f0"/>
<path d="M1510.5,390.6 L1514.6,397.4 L1506.4,397.4 Z" fill="#0000f0"/>
<path d="M1515.1,380.4 L1519.2,387.2 L1511.0,387.2 Z" fill="#0000f0"/>
<path d="M1519.6,368.6 L1523.7,375.4 L1515.5,375.4 Z" fill="#0000f0"/>
<path d="M1523.9,354.8 L1528.0,361.6 L1519.8,361.6 Z" fill="#0000f0"/>
<path d="M1528.9,339.1 L1533.0,345.9 L1524.8,345.9 Z" fill="#0000f0"/>
<path d="M1534.1,321.1 L1538.2,327.9 L1530.0,327.9 Z" fill="#0000f0"/>
<path d="M1539.0,300.2 L1543.1,307.0 L1534.9,307.0 Z" fill="#0000f0"/>
<path d="M1544.0,276.3 L1548.1,283.1 L1539.9,283.1 Z" fill="#0000f0"/>
<path d="M1549.8,249.1 L1553.9,255.9 L1545.7,255.9 Z" fill="#0000f0"/>
<polyline points="1353.7,383.0 1369.4,384.7 1386.5,389.1 1401.5,395.3 1413.8,400.8 1426.0,412.3 1438.5,424.6 1451.1,437.7 1461.4,424.9 1467.4,412.1 1471.6,397.6 1473.5,386.0 1475.9,373.6 1478.8,357.4 1481.3,341.3 1483.0,319.7 1484.9,294.6 1486.7,262.3 1488.6,232.0" fill="none" stroke="#0a6a6a" stroke-width="2" stroke-linejoin="round" />
<path d="M1353.7,386.4 L1357.8,379.6 L1349.6,379.6 Z" fill="#0c7c7c"/>
<path d="M1361.2,387.2 L1365.3,380.4 L1357.1,380.4 Z" fill="#0c7c7c"/>
<path d="M1376.5,389.9 L1380.6,383.1 L1372.4,383.1 Z" fill="#0c7c7c"/>
<path d="M1391.1,394.4 L1395.2,387.6 L1387.0,387.6 Z" fill="#0c7c7c"/>
<path d="M1403.3,399.5 L1407.4,392.7 L1399.2,392.7 Z" fill="#0c7c7c"/>
<path d="M1413.7,404.2 L1417.8,397.4 L1409.6,397.4 Z" fill="#0c7c7c"/>
<path d="M1420.9,410.9 L1425.0,404.1 L1416.8,404.1 Z" fill="#0c7c7c"/>
<path d="M1427.0,416.7 L1431.1,409.9 L1422.9,409.9 Z" fill="#0c7c7c"/>
<path d="M1432.3,421.9 L1436.4,415.1 L1428.2,415.1 Z" fill="#0c7c7c"/>
<path d="M1436.7,426.3 L1440.8,419.5 L1432.6,419.5 Z" fill="#0c7c7c"/>
<path d="M1440.6,430.1 L1444.7,423.3 L1436.5,423.3 Z" fill="#0c7c7c"/>
<path d="M1443.8,433.5 L1447.9,426.7 L1439.7,426.7 Z" fill="#0c7c7c"/>
<path d="M1446.6,436.4 L1450.7,429.6 L1442.5,429.6 Z" fill="#0c7c7c"/>
<path d="M1449.0,438.9 L1453.1,432.1 L1444.9,432.1 Z" fill="#0c7c7c"/>
<path d="M1451.1,441.1 L1455.2,434.3 L1447.0,434.3 Z" fill="#0c7c7c"/>
<path d="M1453.0,438.8 L1457.1,432.0 L1448.9,432.0 Z" fill="#0c7c7c"/>
<path d="M1455.1,436.1 L1459.2,429.3 L1451.0,429.3 Z" fill="#0c7c7c"/>
<path d="M1457.6,433.0 L1461.7,426.2 L1453.5,426.2 Z" fill="#0c7c7c"/>
<path d="M1460.5,429.4 L1464.6,422.6 L1456.4,422.6 Z" fill="#0c7c7c"/>
<path d="M1463.0,424.9 L1467.1,418.1 L1458.9,418.1 Z" fill="#0c7c7c"/>
<path d="M1465.6,419.4 L1469.7,412.6 L1461.5,412.6 Z" fill="#0c7c7c"/>
<path d="M1468.1,413.0 L1472.2,406.2 L1464.0,406.2 Z" fill="#0c7c7c"/>
<path d="M1470.4,405.3 L1474.5,398.5 L1466.3,398.5 Z" fill="#0c7c7c"/>
<path d="M1472.4,396.4 L1476.5,389.6 L1468.3,389.6 Z" fill="#0c7c7c"/>
<path d="M1474.2,386.0 L1478.3,379.2 L1470.1,379.2 Z" fill="#0c7c7c"/>
<path d="M1476.4,374.0 L1480.5,367.2 L1472.3,367.2 Z" fill="#0c7c7c"/>
<path d="M1478.9,360.3 L1483.0,353.5 L1474.8,353.5 Z" fill="#0c7c7c"/>
<path d="M1481.3,344.4 L1485.4,337.6 L1477.2,337.6 Z" fill="#0c7c7c"/>
<path d="M1482.8,326.0 L1486.9,319.2 L1478.7,319.2 Z" fill="#0c7c7c"/>
<path d="M1484.4,304.9 L1488.5,298.1 L1480.3,298.1 Z" fill="#0c7c7c"/>
<path d="M1485.9,280.5 L1490.0,273.7 L1481.8,273.7 Z" fill="#0c7c7c"/>
<path d="M1487.5,252.5 L1491.6,245.7 L1483.4,245.7 Z" fill="#0c7c7c"/>
</g>
<rect x="1343.2" y="236.2" width="252.79999999999995" height="209.8" fill="none" stroke="#000" stroke-width="2.6"/>
<line x1="1379.6" y1="446.0" x2="1379.6" y2="451.0" stroke="#000" stroke-width="2" stroke-linecap="butt"/>
<text transform="translate(1380.4,464.8) scale(1.03,1)" font-size="17.2" text-anchor="middle" fill="#000"  letter-spacing="1.5" font-weight="bold">40</text>
<line x1="1415.8" y1="446.0" x2="1415.8" y2="449.5" stroke="#000" stroke-width="2" stroke-linecap="butt"/>
<line x1="1451.9" y1="446.0" x2="1451.9" y2="451.0" stroke="#000" stroke-width="2" stroke-linecap="butt"/>
<text transform="translate(1452.7,464.8) scale(1.03,1)" font-size="17.2" text-anchor="middle" fill="#000"  letter-spacing="1.5" font-weight="bold">60</text>
<line x1="1488.1" y1="446.0" x2="1488.1" y2="449.5" stroke="#000" stroke-width="2" stroke-linecap="butt"/>
<line x1="1524.2" y1="446.0" x2="1524.2" y2="451.0" stroke="#000" stroke-width="2" stroke-linecap="butt"/>
<text transform="translate(1525.0,464.8) scale(1.03,1)" font-size="17.2" text-anchor="middle" fill="#000"  letter-spacing="1.5" font-weight="bold">80</text>
<line x1="1560.3" y1="446.0" x2="1560.3" y2="449.5" stroke="#000" stroke-width="2" stroke-linecap="butt"/>
<line x1="1596.5" y1="446.0" x2="1596.5" y2="451.0" stroke="#000" stroke-width="2" stroke-linecap="butt"/>
<text transform="translate(1597.2,464.8) scale(1.03,1)" font-size="17.2" text-anchor="middle" fill="#000"  letter-spacing="1.5" font-weight="bold">100</text>
<line x1="1339.7" y1="432.6" x2="1343.2" y2="432.6" stroke="#000" stroke-width="2" stroke-linecap="butt"/>
<line x1="1338.2" y1="404.5" x2="1343.2" y2="404.5" stroke="#000" stroke-width="2" stroke-linecap="butt"/>
<text transform="translate(1336.0,408.7) scale(1.03,1)" font-size="17.2" text-anchor="end" fill="#000"  letter-spacing="1.5" font-weight="bold">20</text>
<line x1="1339.7" y1="376.4" x2="1343.2" y2="376.4" stroke="#000" stroke-width="2" stroke-linecap="butt"/>
<line x1="1338.2" y1="348.4" x2="1343.2" y2="348.4" stroke="#000" stroke-width="2" stroke-linecap="butt"/>
<text transform="translate(1336.0,352.6) scale(1.03,1)" font-size="17.2" text-anchor="end" fill="#000"  letter-spacing="1.5" font-weight="bold">40</text>
<line x1="1339.7" y1="320.4" x2="1343.2" y2="320.4" stroke="#000" stroke-width="2" stroke-linecap="butt"/>
<line x1="1338.2" y1="292.3" x2="1343.2" y2="292.3" stroke="#000" stroke-width="2" stroke-linecap="butt"/>
<text transform="translate(1336.0,296.5) scale(1.03,1)" font-size="17.2" text-anchor="end" fill="#000"  letter-spacing="1.5" font-weight="bold">60</text>
<line x1="1339.7" y1="264.2" x2="1343.2" y2="264.2" stroke="#000" stroke-width="2" stroke-linecap="butt"/>
<line x1="1338.2" y1="236.2" x2="1343.2" y2="236.2" stroke="#000" stroke-width="2" stroke-linecap="butt"/>
<text transform="translate(1336.0,240.4) scale(1.03,1)" font-size="17.2" text-anchor="end" fill="#000"  letter-spacing="1.5" font-weight="bold">80</text>
<line x1="1345.0" y1="243.8" x2="1367.0" y2="243.8" stroke="#b00000" stroke-width="2.2" stroke-linecap="butt"/>
<circle cx="1356.0" cy="243.8" r="3.6" fill="#f00000"/>
<text transform="translate(1368.5,246.8) scale(1.1,1)" font-size="9" text-anchor="start" fill="#000" >3D-TiO<tspan font-size="6" dy="3">2</tspan></text>
<line x1="1345.0" y1="258.1" x2="1367.0" y2="258.1" stroke="#0000a0" stroke-width="2.2" stroke-linecap="butt"/>
<path d="M1356.0,253.6 L1360.5,260.6 L1351.5,260.6 Z" fill="#0000f0"/>
<text transform="translate(1368.5,261.1) scale(1.1,1)" font-size="9" text-anchor="start" fill="#000" >Magnetic 3D-TiO<tspan font-size="6" dy="3">2</tspan></text>
<line x1="1345.0" y1="272.3" x2="1367.0" y2="272.3" stroke="#0c6c6c" stroke-width="2.2" stroke-linecap="butt"/>
<path d="M1356.0,276.8 L1360.5,269.8 L1351.5,269.8 Z" fill="#0c7c7c"/>
<text transform="translate(1368.5,275.3) scale(1.1,1)" font-size="9" text-anchor="start" fill="#000" >Magnetic 3D-TiO<tspan font-size="6" dy="3">2</tspan><tspan dy="-3">@HPGA</tspan></text>
</svg></body></html>
